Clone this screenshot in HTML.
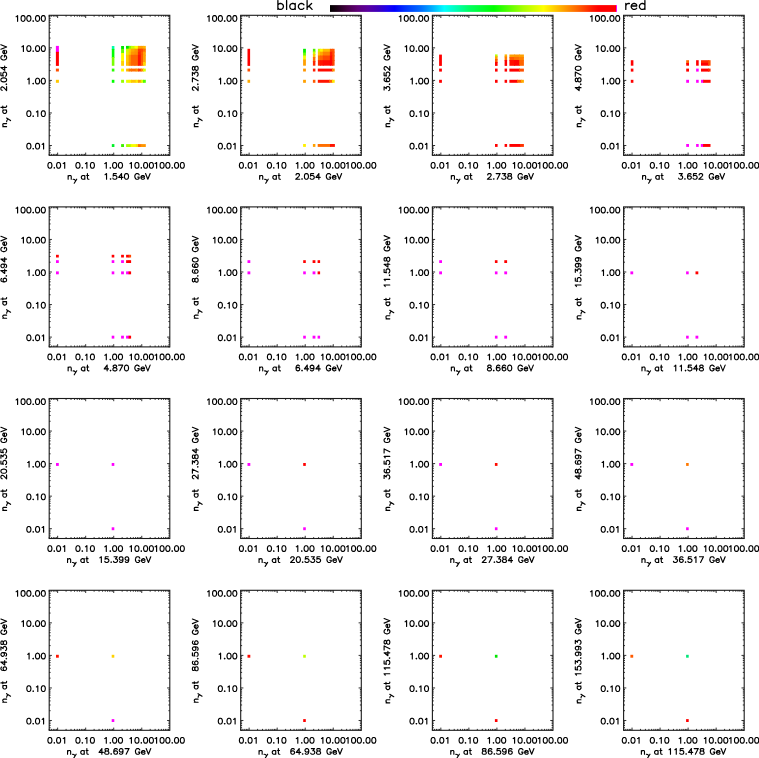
<!DOCTYPE html>
<html><head><meta charset="utf-8"><title>plot</title><style>
html,body{margin:0;padding:0;background:#fff;overflow:hidden;}svg{display:block;}
.tx{fill:none;stroke:#000;stroke-width:1.15px;stroke-linecap:round;stroke-linejoin:round;}
</style></head><body>
<svg width="759" height="758" viewBox="0 0 759 758">
<defs><linearGradient id="cb" x1="0" x2="1" y1="0" y2="0">
<stop offset="0.0%" stop-color="#000000"/>
<stop offset="2.3%" stop-color="#190014"/>
<stop offset="5.9%" stop-color="#460046"/>
<stop offset="9.6%" stop-color="#5f0078"/>
<stop offset="13.2%" stop-color="#5a00a0"/>
<stop offset="17.0%" stop-color="#3c00be"/>
<stop offset="19.9%" stop-color="#1e00f0"/>
<stop offset="22.5%" stop-color="#0000ff"/>
<stop offset="26.1%" stop-color="#0032ff"/>
<stop offset="31.7%" stop-color="#006eff"/>
<stop offset="35.4%" stop-color="#00aaff"/>
<stop offset="39.8%" stop-color="#00ffff"/>
<stop offset="44.6%" stop-color="#00ffaa"/>
<stop offset="48.3%" stop-color="#00ff64"/>
<stop offset="57.1%" stop-color="#00ff00"/>
<stop offset="61.9%" stop-color="#50ff00"/>
<stop offset="67.4%" stop-color="#aaff00"/>
<stop offset="74.4%" stop-color="#ffff00"/>
<stop offset="80.8%" stop-color="#ffaa00"/>
<stop offset="86.3%" stop-color="#ff6400"/>
<stop offset="91.8%" stop-color="#ff1400"/>
<stop offset="93.6%" stop-color="#ff0000"/>
<stop offset="99.6%" stop-color="#ff0000"/>
<stop offset="99.6%" stop-color="#ff00ff"/>
<stop offset="100.0%" stop-color="#ff00ff"/>
</linearGradient>
<g id="axes"><path d="M0.00 140.00v-1.40M0.00 0v1.40M0 140.00h1.40M120.60 140.00h-1.40M2.22 140.00v-1.40M2.22 0v1.40M0 137.42h1.40M120.60 137.42h-1.40M4.10 140.00v-1.40M4.10 0v1.40M0 135.24h1.40M120.60 135.24h-1.40M5.72 140.00v-1.40M5.72 0v1.40M0 133.36h1.40M120.60 133.36h-1.40M7.16 140.00v-1.40M7.16 0v1.40M0 131.69h1.40M120.60 131.69h-1.40M8.44 140.00v-2.70M8.44 0v2.70M0 130.20h2.70M120.60 130.20h-2.70M16.88 140.00v-1.40M16.88 0v1.40M0 120.40h1.40M120.60 120.40h-1.40M21.82 140.00v-1.40M21.82 0v1.40M0 114.67h1.40M120.60 114.67h-1.40M25.32 140.00v-1.40M25.32 0v1.40M0 110.60h1.40M120.60 110.60h-1.40M28.04 140.00v-1.40M28.04 0v1.40M0 107.45h1.40M120.60 107.45h-1.40M30.26 140.00v-1.40M30.26 0v1.40M0 104.87h1.40M120.60 104.87h-1.40M32.14 140.00v-1.40M32.14 0v1.40M0 102.69h1.40M120.60 102.69h-1.40M33.76 140.00v-1.40M33.76 0v1.40M0 100.81h1.40M120.60 100.81h-1.40M35.20 140.00v-1.40M35.20 0v1.40M0 99.14h1.40M120.60 99.14h-1.40M36.48 140.00v-2.70M36.48 0v2.70M0 97.65h2.70M120.60 97.65h-2.70M44.92 140.00v-1.40M44.92 0v1.40M0 87.85h1.40M120.60 87.85h-1.40M49.86 140.00v-1.40M49.86 0v1.40M0 82.12h1.40M120.60 82.12h-1.40M53.36 140.00v-1.40M53.36 0v1.40M0 78.05h1.40M120.60 78.05h-1.40M56.08 140.00v-1.40M56.08 0v1.40M0 74.90h1.40M120.60 74.90h-1.40M58.30 140.00v-1.40M58.30 0v1.40M0 72.32h1.40M120.60 72.32h-1.40M60.18 140.00v-1.40M60.18 0v1.40M0 70.14h1.40M120.60 70.14h-1.40M61.80 140.00v-1.40M61.80 0v1.40M0 68.26h1.40M120.60 68.26h-1.40M63.24 140.00v-1.40M63.24 0v1.40M0 66.59h1.40M120.60 66.59h-1.40M64.52 140.00v-2.70M64.52 0v2.70M0 65.10h2.70M120.60 65.10h-2.70M72.96 140.00v-1.40M72.96 0v1.40M0 55.30h1.40M120.60 55.30h-1.40M77.90 140.00v-1.40M77.90 0v1.40M0 49.57h1.40M120.60 49.57h-1.40M81.40 140.00v-1.40M81.40 0v1.40M0 45.50h1.40M120.60 45.50h-1.40M84.12 140.00v-1.40M84.12 0v1.40M0 42.35h1.40M120.60 42.35h-1.40M86.34 140.00v-1.40M86.34 0v1.40M0 39.77h1.40M120.60 39.77h-1.40M88.22 140.00v-1.40M88.22 0v1.40M0 37.59h1.40M120.60 37.59h-1.40M89.84 140.00v-1.40M89.84 0v1.40M0 35.70h1.40M120.60 35.70h-1.40M91.28 140.00v-1.40M91.28 0v1.40M0 34.04h1.40M120.60 34.04h-1.40M92.56 140.00v-2.70M92.56 0v2.70M0 32.55h2.70M120.60 32.55h-2.70M101.00 140.00v-1.40M101.00 0v1.40M0 22.75h1.40M120.60 22.75h-1.40M105.94 140.00v-1.40M105.94 0v1.40M0 17.02h1.40M120.60 17.02h-1.40M109.44 140.00v-1.40M109.44 0v1.40M0 12.95h1.40M120.60 12.95h-1.40M112.16 140.00v-1.40M112.16 0v1.40M0 9.80h1.40M120.60 9.80h-1.40M114.38 140.00v-1.40M114.38 0v1.40M0 7.22h1.40M120.60 7.22h-1.40M116.26 140.00v-1.40M116.26 0v1.40M0 5.04h1.40M120.60 5.04h-1.40M117.88 140.00v-1.40M117.88 0v1.40M0 3.15h1.40M120.60 3.15h-1.40M119.32 140.00v-1.40M119.32 0v1.40M0 1.49h1.40M120.60 1.49h-1.40" stroke="#1a1a1a" stroke-width="0.9" fill="none"/><rect x="0" y="0" width="120.60" height="140.00" fill="none" stroke="#1a1a1a" stroke-width="1.1"/><path class="tx" d="M0.4 147.2L-0.4 147.5L-1 148.3L-1.3 149.7L-1.3 150.5L-1 151.8L-0.4 152.6L0.4 152.9L1 152.9L1.9 152.6L2.4 151.8L2.7 150.5L2.7 149.7L2.4 148.3L1.9 147.5L1 147.2L0.4 147.2M5.1 152.4L4.8 152.6L5.1 152.9L5.3 152.6L5.1 152.4M9.1 147.2L8.2 147.5L7.7 148.3L7.4 149.7L7.4 150.5L7.7 151.8L8.2 152.6L9.1 152.9L9.7 152.9L10.5 152.6L11.1 151.8L11.4 150.5L11.4 149.7L11.1 148.3L10.5 147.5L9.7 147.2L9.1 147.2M14 148.3L14.6 148L15.5 147.2L15.5 152.9M28.5 147.2L27.6 147.5L27 148.3L26.7 149.7L26.7 150.5L27 151.8L27.6 152.6L28.5 152.9L29 152.9L29.9 152.6L30.5 151.8L30.8 150.5L30.8 149.7L30.5 148.3L29.9 147.5L29 147.2L28.5 147.2M33.1 152.4L32.8 152.6L33.1 152.9L33.4 152.6L33.1 152.4M36.3 148.3L36.8 148L37.7 147.2L37.7 152.9M42.9 147.2L42 147.5L41.5 148.3L41.2 149.7L41.2 150.5L41.5 151.8L42 152.6L42.9 152.9L43.5 152.9L44.4 152.6L44.9 151.8L45.2 150.5L45.2 149.7L44.9 148.3L44.4 147.5L43.5 147.2L42.9 147.2M55.6 148.3L56.2 148L57.1 147.2L57.1 152.9M61.1 152.4L60.8 152.6L61.1 152.9L61.4 152.6L61.1 152.4M65.2 147.2L64.3 147.5L63.7 148.3L63.4 149.7L63.4 150.5L63.7 151.8L64.3 152.6L65.2 152.9L65.8 152.9L66.6 152.6L67.2 151.8L67.5 150.5L67.5 149.7L67.2 148.3L66.6 147.5L65.8 147.2L65.2 147.2M71 147.2L70.1 147.5L69.5 148.3L69.2 149.7L69.2 150.5L69.5 151.8L70.1 152.6L71 152.9L71.5 152.9L72.4 152.6L73 151.8L73.3 150.5L73.3 149.7L73 148.3L72.4 147.5L71.5 147.2L71 147.2M80.8 148.3L81.4 148L82.2 147.2L82.2 152.9M87.4 147.2L86.6 147.5L86 148.3L85.7 149.7L85.7 150.5L86 151.8L86.6 152.6L87.4 152.9L88 152.9L88.9 152.6L89.5 151.8L89.7 150.5L89.7 149.7L89.5 148.3L88.9 147.5L88 147.2L87.4 147.2M92.1 152.4L91.8 152.6L92.1 152.9L92.3 152.6L92.1 152.4M96.1 147.2L95.2 147.5L94.7 148.3L94.4 149.7L94.4 150.5L94.7 151.8L95.2 152.6L96.1 152.9L96.7 152.9L97.6 152.6L98.1 151.8L98.4 150.5L98.4 149.7L98.1 148.3L97.6 147.5L96.7 147.2L96.1 147.2M101.9 147.2L101 147.5L100.4 148.3L100.2 149.7L100.2 150.5L100.4 151.8L101 152.6L101.9 152.9L102.5 152.9L103.3 152.6L103.9 151.8L104.2 150.5L104.2 149.7L103.9 148.3L103.3 147.5L102.5 147.2L101.9 147.2M105.9 148.3L106.5 148L107.4 147.2L107.4 152.9M112.6 147.2L111.7 147.5L111.1 148.3L110.9 149.7L110.9 150.5L111.1 151.8L111.7 152.6L112.6 152.9L113.2 152.9L114 152.6L114.6 151.8L114.9 150.5L114.9 149.7L114.6 148.3L114 147.5L113.2 147.2L112.6 147.2M118.4 147.2L117.5 147.5L116.9 148.3L116.6 149.7L116.6 150.5L116.9 151.8L117.5 152.6L118.4 152.9L118.9 152.9L119.8 152.6L120.4 151.8L120.7 150.5L120.7 149.7L120.4 148.3L119.8 147.5L118.9 147.2L118.4 147.2M123 152.4L122.7 152.6L123 152.9L123.3 152.6L123 152.4M127 147.2L126.2 147.5L125.6 148.3L125.3 149.7L125.3 150.5L125.6 151.8L126.2 152.6L127 152.9L127.6 152.9L128.5 152.6L129.1 151.8L129.3 150.5L129.3 149.7L129.1 148.3L128.5 147.5L127.6 147.2L127 147.2M132.8 147.2L131.9 147.5L131.4 148.3L131.1 149.7L131.1 150.5L131.4 151.8L131.9 152.6L132.8 152.9L133.4 152.9L134.3 152.6L134.8 151.8L135.1 150.5L135.1 149.7L134.8 148.3L134.3 147.5L133.4 147.2L132.8 147.2M-33.1 1.4L-32.5 1.1L-31.6 0.3L-31.6 6M-26.4 0.3L-27.3 0.6L-27.9 1.4L-28.1 2.8L-28.1 3.6L-27.9 4.9L-27.3 5.7L-26.4 6L-25.8 6L-25 5.7L-24.4 4.9L-24.1 3.6L-24.1 2.8L-24.4 1.4L-25 0.6L-25.8 0.3L-26.4 0.3M-20.6 0.3L-21.5 0.6L-22.1 1.4L-22.4 2.8L-22.4 3.6L-22.1 4.9L-21.5 5.7L-20.6 6L-20.1 6L-19.2 5.7L-18.6 4.9L-18.3 3.6L-18.3 2.8L-18.6 1.4L-19.2 0.6L-20.1 0.3L-20.6 0.3M-16 5.5L-16.3 5.7L-16 6L-15.7 5.7L-16 5.5M-12 0.3L-12.8 0.6L-13.4 1.4L-13.7 2.8L-13.7 3.6L-13.4 4.9L-12.8 5.7L-12 6L-11.4 6L-10.5 5.7L-9.9 4.9L-9.6 3.6L-9.6 2.8L-9.9 1.4L-10.5 0.6L-11.4 0.3L-12 0.3M-6.2 0.3L-7 0.6L-7.6 1.4L-7.9 2.8L-7.9 3.6L-7.6 4.9L-7 5.7L-6.2 6L-5.6 6L-4.7 5.7L-4.2 4.9L-3.9 3.6L-3.9 2.8L-4.2 1.4L-4.7 0.6L-5.6 0.3L-6.2 0.3M-27.3 31.5L-26.7 31.2L-25.8 30.4L-25.8 36.1M-20.6 30.4L-21.5 30.7L-22.1 31.5L-22.4 32.8L-22.4 33.6L-22.1 35L-21.5 35.8L-20.6 36.1L-20.1 36.1L-19.2 35.8L-18.6 35L-18.3 33.6L-18.3 32.8L-18.6 31.5L-19.2 30.7L-20.1 30.4L-20.6 30.4M-16 35.5L-16.3 35.8L-16 36.1L-15.7 35.8L-16 35.5M-12 30.4L-12.8 30.7L-13.4 31.5L-13.7 32.8L-13.7 33.6L-13.4 35L-12.8 35.8L-12 36.1L-11.4 36.1L-10.5 35.8L-9.9 35L-9.6 33.6L-9.6 32.8L-9.9 31.5L-10.5 30.7L-11.4 30.4L-12 30.4M-6.2 30.4L-7 30.7L-7.6 31.5L-7.9 32.8L-7.9 33.6L-7.6 35L-7 35.8L-6.2 36.1L-5.6 36.1L-4.7 35.8L-4.2 35L-3.9 33.6L-3.9 32.8L-4.2 31.5L-4.7 30.7L-5.6 30.4L-6.2 30.4M-21.5 64L-20.9 63.7L-20.1 62.9L-20.1 68.6M-16 68.1L-16.3 68.3L-16 68.6L-15.7 68.3L-16 68.1M-12 62.9L-12.8 63.2L-13.4 64L-13.7 65.4L-13.7 66.2L-13.4 67.5L-12.8 68.3L-12 68.6L-11.4 68.6L-10.5 68.3L-9.9 67.5L-9.6 66.2L-9.6 65.4L-9.9 64L-10.5 63.2L-11.4 62.9L-12 62.9M-6.2 62.9L-7 63.2L-7.6 64L-7.9 65.4L-7.9 66.2L-7.6 67.5L-7 68.3L-6.2 68.6L-5.6 68.6L-4.7 68.3L-4.2 67.5L-3.9 66.2L-3.9 65.4L-4.2 64L-4.7 63.2L-5.6 62.9L-6.2 62.9M-20.6 95.5L-21.5 95.8L-22.1 96.6L-22.4 97.9L-22.4 98.7L-22.1 100.1L-21.5 100.9L-20.6 101.2L-20.1 101.2L-19.2 100.9L-18.6 100.1L-18.3 98.7L-18.3 97.9L-18.6 96.6L-19.2 95.8L-20.1 95.5L-20.6 95.5M-16 100.6L-16.3 100.9L-16 101.2L-15.7 100.9L-16 100.6M-12.8 96.6L-12.2 96.3L-11.4 95.5L-11.4 101.2M-6.2 95.5L-7 95.8L-7.6 96.6L-7.9 97.9L-7.9 98.7L-7.6 100.1L-7 100.9L-6.2 101.2L-5.6 101.2L-4.7 100.9L-4.2 100.1L-3.9 98.7L-3.9 97.9L-4.2 96.6L-4.7 95.8L-5.6 95.5L-6.2 95.5M-20.6 128L-21.5 128.3L-22.1 129.1L-22.4 130.5L-22.4 131.3L-22.1 132.6L-21.5 133.4L-20.6 133.7L-20.1 133.7L-19.2 133.4L-18.6 132.6L-18.3 131.3L-18.3 130.5L-18.6 129.1L-19.2 128.3L-20.1 128L-20.6 128M-16 133.2L-16.3 133.4L-16 133.7L-15.7 133.4L-16 133.2M-12 128L-12.8 128.3L-13.4 129.1L-13.7 130.5L-13.7 131.3L-13.4 132.6L-12.8 133.4L-12 133.7L-11.4 133.7L-10.5 133.4L-9.9 132.6L-9.6 131.3L-9.6 130.5L-9.9 129.1L-10.5 128.3L-11.4 128L-12 128M-7 129.1L-6.5 128.8L-5.6 128L-5.6 133.7"/></g>
</defs>
<rect x="0" y="0" width="759" height="758" fill="#fff"/>
<rect x="330" y="5.1" width="287" height="6.8" fill="url(#cb)"/>
<path class="tx" style="stroke-width:1.3px" d="M277.9 0.6L277.9 9.4M277.9 4.8L278.9 3.9L279.8 3.5L281.1 3.5L282 3.9L283 4.8L283.4 6L283.4 6.9L283 8.1L282 9L281.1 9.4L279.8 9.4L278.9 9L277.9 8.1M286.6 0.6L286.6 9.4M295.2 3.5L295.2 9.4M295.2 4.8L294.3 3.9L293.4 3.5L292.1 3.5L291.1 3.9L290.2 4.8L289.8 6L289.8 6.9L290.2 8.1L291.1 9L292.1 9.4L293.4 9.4L294.3 9L295.2 8.1M303.9 4.8L303 3.9L302.1 3.5L300.7 3.5L299.8 3.9L298.9 4.8L298.4 6L298.4 6.9L298.9 8.1L299.8 9L300.7 9.4L302.1 9.4L303 9L303.9 8.1M307.1 0.6L307.1 9.4M311.6 3.5L307.1 7.7M308.9 6L312.1 9.4M625.8 3.5L625.8 9.4M625.8 6L626.2 4.8L627.1 3.9L628 3.5L629.4 3.5M631.2 6L636.7 6L636.7 5.2L636.2 4.4L635.8 3.9L634.8 3.5L633.5 3.5L632.6 3.9L631.7 4.8L631.2 6L631.2 6.9L631.7 8.1L632.6 9L633.5 9.4L634.8 9.4L635.8 9L636.7 8.1M644.9 0.6L644.9 9.4M644.9 4.8L643.9 3.9L643 3.5L641.7 3.5L640.8 3.9L639.9 4.8L639.4 6L639.4 6.9L639.9 8.1L640.8 9L641.7 9.4L643 9.4L643.9 9L644.9 8.1"/>
<g transform="translate(49.20,15.30)">
<rect x="6.70" y="30.60" width="3.00" height="6.70" fill="#ff00ff"/>
<rect x="6.70" y="36.50" width="3.00" height="14.10" fill="#ff0000"/>
<rect x="6.70" y="53.30" width="3.00" height="2.90" fill="#ff5000"/>
<rect x="6.70" y="64.50" width="3.00" height="3.00" fill="#ffc800"/>
<rect x="62.60" y="30.70" width="2.60" height="3.70" fill="#00ffaa"/>
<rect x="62.60" y="33.60" width="2.60" height="8.90" fill="#00ff00"/>
<rect x="62.60" y="41.70" width="2.60" height="8.80" fill="#78ff00"/>
<rect x="62.60" y="53.30" width="2.60" height="2.90" fill="#28ff00"/>
<rect x="62.60" y="64.50" width="2.60" height="3.00" fill="#00ff00"/>
<rect x="62.60" y="128.80" width="2.60" height="2.90" fill="#00f028"/>
<rect x="71.90" y="30.70" width="2.90" height="3.70" fill="#00e600"/>
<rect x="71.90" y="33.60" width="2.90" height="4.90" fill="#64ff00"/>
<rect x="71.90" y="37.70" width="2.90" height="8.80" fill="#ffff00"/>
<rect x="71.90" y="45.70" width="2.90" height="4.80" fill="#ffd200"/>
<rect x="71.90" y="53.30" width="2.90" height="2.90" fill="#ffff00"/>
<rect x="71.90" y="64.50" width="2.90" height="3.00" fill="#96ff00"/>
<rect x="71.90" y="128.80" width="2.90" height="2.90" fill="#3cf000"/>
<rect x="76.80" y="30.60" width="3.50" height="3.60" fill="#00e600"/>
<rect x="79.50" y="30.60" width="2.90" height="3.60" fill="#78ff00"/>
<rect x="81.60" y="30.60" width="4.50" height="3.60" fill="#c8ff00"/>
<rect x="85.30" y="30.60" width="4.20" height="3.60" fill="#ffff00"/>
<rect x="88.70" y="30.60" width="3.70" height="3.60" fill="#ffa000"/>
<rect x="91.60" y="30.60" width="3.00" height="3.60" fill="#ffa000"/>
<rect x="93.80" y="30.60" width="2.80" height="3.60" fill="#ffb400"/>
<rect x="76.80" y="33.40" width="3.50" height="3.70" fill="#c8ff00"/>
<rect x="79.50" y="33.40" width="2.90" height="3.70" fill="#ffd200"/>
<rect x="81.60" y="33.40" width="4.50" height="3.70" fill="#ffaa00"/>
<rect x="85.30" y="33.40" width="4.20" height="3.70" fill="#ff9600"/>
<rect x="88.70" y="33.40" width="3.70" height="3.70" fill="#ff3c00"/>
<rect x="91.60" y="33.40" width="3.00" height="3.70" fill="#ff4600"/>
<rect x="93.80" y="33.40" width="2.80" height="3.70" fill="#ff6e00"/>
<rect x="76.80" y="36.30" width="3.50" height="4.00" fill="#e6f000"/>
<rect x="79.50" y="36.30" width="2.90" height="4.00" fill="#ffc800"/>
<rect x="81.60" y="36.30" width="4.50" height="4.00" fill="#ff9600"/>
<rect x="85.30" y="36.30" width="4.20" height="4.00" fill="#ff8c00"/>
<rect x="88.70" y="36.30" width="3.70" height="4.00" fill="#ff2800"/>
<rect x="91.60" y="36.30" width="3.00" height="4.00" fill="#ff5a00"/>
<rect x="93.80" y="36.30" width="2.80" height="4.00" fill="#ffa000"/>
<rect x="76.80" y="39.50" width="3.50" height="8.00" fill="#ffc800"/>
<rect x="79.50" y="39.50" width="2.90" height="8.00" fill="#ff9600"/>
<rect x="81.60" y="39.50" width="4.50" height="8.00" fill="#ff6400"/>
<rect x="85.30" y="39.50" width="4.20" height="8.00" fill="#ff6400"/>
<rect x="88.70" y="39.50" width="3.70" height="8.00" fill="#ff1400"/>
<rect x="91.60" y="39.50" width="3.00" height="8.00" fill="#ff5a00"/>
<rect x="93.80" y="39.50" width="2.80" height="8.00" fill="#ffa000"/>
<rect x="76.80" y="46.70" width="3.50" height="3.80" fill="#ffbe00"/>
<rect x="79.50" y="46.70" width="2.90" height="3.80" fill="#ff8c00"/>
<rect x="81.60" y="46.70" width="4.50" height="3.80" fill="#ff6400"/>
<rect x="85.30" y="46.70" width="4.20" height="3.80" fill="#ff6400"/>
<rect x="88.70" y="46.70" width="3.70" height="3.80" fill="#ff1400"/>
<rect x="91.60" y="46.70" width="3.00" height="3.80" fill="#ff6400"/>
<rect x="93.80" y="46.70" width="2.80" height="3.80" fill="#ffd200"/>
<rect x="76.90" y="53.30" width="3.40" height="2.90" fill="#ffb400"/>
<rect x="79.50" y="53.30" width="3.10" height="2.90" fill="#ff7800"/>
<rect x="81.80" y="53.30" width="5.50" height="2.90" fill="#ff6e00"/>
<rect x="86.50" y="53.30" width="3.00" height="2.90" fill="#ff8c00"/>
<rect x="88.70" y="53.30" width="3.70" height="2.90" fill="#ff3c00"/>
<rect x="91.60" y="53.30" width="3.00" height="2.90" fill="#ff8c00"/>
<rect x="93.80" y="53.30" width="2.80" height="2.90" fill="#dcff00"/>
<rect x="76.90" y="64.50" width="3.40" height="3.00" fill="#e6ff00"/>
<rect x="79.50" y="64.50" width="3.10" height="3.00" fill="#fff000"/>
<rect x="81.80" y="64.50" width="5.50" height="3.00" fill="#ffc800"/>
<rect x="86.50" y="64.50" width="3.00" height="3.00" fill="#ffeb00"/>
<rect x="88.70" y="64.50" width="3.70" height="3.00" fill="#ffa000"/>
<rect x="91.60" y="64.50" width="3.00" height="3.00" fill="#dcff00"/>
<rect x="93.80" y="64.50" width="2.80" height="3.00" fill="#50ff00"/>
<rect x="76.90" y="128.80" width="5.40" height="2.90" fill="#aaff00"/>
<rect x="81.50" y="128.80" width="6.00" height="2.90" fill="#f5ff00"/>
<rect x="86.70" y="128.80" width="2.90" height="2.90" fill="#ffdc00"/>
<rect x="88.80" y="128.80" width="3.50" height="2.90" fill="#ff6e00"/>
<rect x="91.50" y="128.80" width="5.10" height="2.90" fill="#ff9600"/>
<use href="#axes"/>
<path class="tx" transform="translate(17.74,163.95)" d="M1.2 -3.8L1.2 0M1.2 -2.7L2 -3.5L2.6 -3.8L3.5 -3.8L4 -3.5L4.3 -2.7L4.3 0M6.18 0.05Q7.68 0.00 8.48 1.20M9.78 -0.05L7.28 3.95M17.9 -3.8L17.9 0M17.9 -3L17.3 -3.5L16.8 -3.8L15.9 -3.8L15.3 -3.5L14.7 -3L14.4 -2.2L14.4 -1.6L14.7 -0.8L15.3 -0.3L15.9 0L16.8 0L17.3 -0.3L17.9 -0.8M20.5 -5.7L20.5 -1.1L20.8 -0.3L21.4 0L22 0M19.7 -3.8L21.7 -3.8M38.1 -4.6L38.7 -4.9L39.6 -5.7L39.6 0M43.6 -0.5L43.3 -0.3L43.6 0L43.9 -0.3L43.6 -0.5M49.4 -5.7L46.5 -5.7L46.2 -3.2L46.5 -3.5L47.4 -3.8L48.3 -3.8L49.1 -3.5L49.7 -3L50 -2.2L50 -1.6L49.7 -0.8L49.1 -0.3L48.3 0L47.4 0L46.5 -0.3L46.2 -0.5L46 -1.1M54.6 -5.7L51.7 -1.9L56.1 -1.9M54.6 -5.7L54.6 0M59.2 -5.7L58.4 -5.4L57.8 -4.6L57.5 -3.2L57.5 -2.4L57.8 -1.1L58.4 -0.3L59.2 0L59.8 0L60.7 -0.3L61.3 -1.1L61.6 -2.4L61.6 -3.2L61.3 -4.6L60.7 -5.4L59.8 -5.7L59.2 -5.7M72.2 -4.3L72 -4.9L71.4 -5.4L70.8 -5.7L69.6 -5.7L69.1 -5.4L68.5 -4.9L68.2 -4.3L67.9 -3.5L67.9 -2.2L68.2 -1.4L68.5 -0.8L69.1 -0.3L69.6 0L70.8 0L71.4 -0.3L72 -0.8L72.2 -1.4L72.2 -2.2M70.8 -2.2L72.2 -2.2M74 -2.2L77.5 -2.2L77.5 -2.7L77.2 -3.2L76.9 -3.5L76.3 -3.8L75.4 -3.8L74.9 -3.5L74.3 -3L74 -2.2L74 -1.6L74.3 -0.8L74.9 -0.3L75.4 0L76.3 0L76.9 -0.3L77.5 -0.8M78.6 -5.7L80.9 0M83.2 -5.7L80.9 0"/>
<path class="tx" transform="translate(-42.6,112.56) rotate(-90)" d="M1.2 -3.8L1.2 0M1.2 -2.7L2 -3.5L2.6 -3.8L3.5 -3.8L4 -3.5L4.3 -2.7L4.3 0M6.18 0.05Q7.68 0.00 8.48 1.20M9.78 -0.05L7.28 3.95M17.9 -3.8L17.9 0M17.9 -3L17.3 -3.5L16.8 -3.8L15.9 -3.8L15.3 -3.5L14.7 -3L14.4 -2.2L14.4 -1.6L14.7 -0.8L15.3 -0.3L15.9 0L16.8 0L17.3 -0.3L17.9 -0.8M20.5 -5.7L20.5 -1.1L20.8 -0.3L21.4 0L22 0M19.7 -3.8L21.7 -3.8M37.6 -4.3L37.6 -4.6L37.9 -5.1L38.1 -5.4L38.7 -5.7L39.9 -5.7L40.5 -5.4L40.7 -5.1L41 -4.6L41 -4.1L40.7 -3.5L40.2 -2.7L37.3 0L41.3 0M43.6 -0.5L43.3 -0.3L43.6 0L43.9 -0.3L43.6 -0.5M47.7 -5.7L46.8 -5.4L46.2 -4.6L46 -3.2L46 -2.4L46.2 -1.1L46.8 -0.3L47.7 0L48.3 0L49.1 -0.3L49.7 -1.1L50 -2.4L50 -3.2L49.7 -4.6L49.1 -5.4L48.3 -5.7L47.7 -5.7M55.2 -5.7L52.3 -5.7L52 -3.2L52.3 -3.5L53.2 -3.8L54 -3.8L54.9 -3.5L55.5 -3L55.8 -2.2L55.8 -1.6L55.5 -0.8L54.9 -0.3L54 0L53.2 0L52.3 -0.3L52 -0.5L51.7 -1.1M60.4 -5.7L57.5 -1.9L61.8 -1.9M60.4 -5.7L60.4 0M72.2 -4.3L72 -4.9L71.4 -5.4L70.8 -5.7L69.6 -5.7L69.1 -5.4L68.5 -4.9L68.2 -4.3L67.9 -3.5L67.9 -2.2L68.2 -1.4L68.5 -0.8L69.1 -0.3L69.6 0L70.8 0L71.4 -0.3L72 -0.8L72.2 -1.4L72.2 -2.2M70.8 -2.2L72.2 -2.2M74 -2.2L77.5 -2.2L77.5 -2.7L77.2 -3.2L76.9 -3.5L76.3 -3.8L75.4 -3.8L74.9 -3.5L74.3 -3L74 -2.2L74 -1.6L74.3 -0.8L74.9 -0.3L75.4 0L76.3 0L76.9 -0.3L77.5 -0.8M78.6 -5.7L80.9 0M83.2 -5.7L80.9 0"/>
</g>
<g transform="translate(240.70,15.30)">
<rect x="6.80" y="33.50" width="2.60" height="17.10" fill="#ff0000"/>
<rect x="6.80" y="53.30" width="2.60" height="2.90" fill="#ff5000"/>
<rect x="6.80" y="64.50" width="2.60" height="3.00" fill="#ffaa00"/>
<rect x="62.40" y="33.50" width="2.80" height="4.50" fill="#00f000"/>
<rect x="62.40" y="37.20" width="2.80" height="3.80" fill="#64ff00"/>
<rect x="62.40" y="40.20" width="2.80" height="4.80" fill="#f5fa00"/>
<rect x="62.40" y="44.20" width="2.80" height="6.20" fill="#ffa000"/>
<rect x="62.40" y="53.30" width="2.80" height="2.90" fill="#ff9600"/>
<rect x="62.40" y="64.50" width="2.80" height="3.00" fill="#ffa000"/>
<rect x="62.40" y="128.70" width="2.80" height="2.90" fill="#fff000"/>
<rect x="72.20" y="33.50" width="2.50" height="3.50" fill="#50f000"/>
<rect x="72.20" y="36.20" width="2.50" height="3.30" fill="#c8ff00"/>
<rect x="72.20" y="38.70" width="2.50" height="3.80" fill="#ffc800"/>
<rect x="72.20" y="41.70" width="2.50" height="4.80" fill="#ff6e00"/>
<rect x="72.20" y="45.70" width="2.50" height="4.70" fill="#ff2800"/>
<rect x="72.20" y="53.30" width="2.50" height="2.90" fill="#ff1e00"/>
<rect x="72.20" y="64.50" width="2.50" height="3.00" fill="#ff5a00"/>
<rect x="72.20" y="128.70" width="2.50" height="2.90" fill="#ffa000"/>
<rect x="77.20" y="33.50" width="2.80" height="3.70" fill="#beff00"/>
<rect x="79.20" y="33.50" width="3.70" height="3.70" fill="#fffa00"/>
<rect x="82.10" y="33.50" width="7.90" height="3.70" fill="#ffbe00"/>
<rect x="89.20" y="33.50" width="3.20" height="3.70" fill="#ff5000"/>
<rect x="91.60" y="33.50" width="2.30" height="3.70" fill="#ff5a00"/>
<rect x="77.20" y="36.40" width="2.80" height="4.60" fill="#ffc800"/>
<rect x="79.20" y="36.40" width="3.70" height="4.60" fill="#ffaa00"/>
<rect x="82.10" y="36.40" width="7.90" height="4.60" fill="#ff8200"/>
<rect x="89.20" y="36.40" width="3.20" height="4.60" fill="#ff1e00"/>
<rect x="91.60" y="36.40" width="2.30" height="4.60" fill="#ff5000"/>
<rect x="77.20" y="40.20" width="2.80" height="5.50" fill="#ff7800"/>
<rect x="79.20" y="40.20" width="3.70" height="5.50" fill="#ff6400"/>
<rect x="82.10" y="40.20" width="7.90" height="5.50" fill="#ff4600"/>
<rect x="89.20" y="40.20" width="3.20" height="5.50" fill="#ff0a00"/>
<rect x="91.60" y="40.20" width="2.30" height="5.50" fill="#ff5000"/>
<rect x="77.20" y="44.90" width="2.80" height="5.50" fill="#ff2800"/>
<rect x="79.20" y="44.90" width="3.70" height="5.50" fill="#ff1400"/>
<rect x="82.10" y="44.90" width="7.90" height="5.50" fill="#ff0a00"/>
<rect x="89.20" y="44.90" width="3.20" height="5.50" fill="#ff0000"/>
<rect x="91.60" y="44.90" width="2.30" height="5.50" fill="#ff4600"/>
<rect x="77.10" y="53.30" width="15.00" height="2.90" fill="#ff0a00"/>
<rect x="91.30" y="53.30" width="2.70" height="2.90" fill="#ff8c00"/>
<rect x="77.10" y="64.50" width="12.00" height="3.00" fill="#ff1400"/>
<rect x="88.30" y="64.50" width="3.80" height="3.00" fill="#ff6400"/>
<rect x="91.30" y="64.50" width="2.70" height="3.00" fill="#ffe600"/>
<rect x="77.00" y="128.70" width="13.10" height="2.90" fill="#ff6e00"/>
<rect x="89.30" y="128.70" width="4.90" height="2.90" fill="#ff1400"/>
<use href="#axes"/>
<path class="tx" transform="translate(17.74,163.95)" d="M1.2 -3.8L1.2 0M1.2 -2.7L2 -3.5L2.6 -3.8L3.5 -3.8L4 -3.5L4.3 -2.7L4.3 0M6.18 0.05Q7.68 0.00 8.48 1.20M9.78 -0.05L7.28 3.95M17.9 -3.8L17.9 0M17.9 -3L17.3 -3.5L16.8 -3.8L15.9 -3.8L15.3 -3.5L14.7 -3L14.4 -2.2L14.4 -1.6L14.7 -0.8L15.3 -0.3L15.9 0L16.8 0L17.3 -0.3L17.9 -0.8M20.5 -5.7L20.5 -1.1L20.8 -0.3L21.4 0L22 0M19.7 -3.8L21.7 -3.8M37.6 -4.3L37.6 -4.6L37.9 -5.1L38.1 -5.4L38.7 -5.7L39.9 -5.7L40.5 -5.4L40.7 -5.1L41 -4.6L41 -4.1L40.7 -3.5L40.2 -2.7L37.3 0L41.3 0M43.6 -0.5L43.3 -0.3L43.6 0L43.9 -0.3L43.6 -0.5M47.7 -5.7L46.8 -5.4L46.2 -4.6L46 -3.2L46 -2.4L46.2 -1.1L46.8 -0.3L47.7 0L48.3 0L49.1 -0.3L49.7 -1.1L50 -2.4L50 -3.2L49.7 -4.6L49.1 -5.4L48.3 -5.7L47.7 -5.7M55.2 -5.7L52.3 -5.7L52 -3.2L52.3 -3.5L53.2 -3.8L54 -3.8L54.9 -3.5L55.5 -3L55.8 -2.2L55.8 -1.6L55.5 -0.8L54.9 -0.3L54 0L53.2 0L52.3 -0.3L52 -0.5L51.7 -1.1M60.4 -5.7L57.5 -1.9L61.8 -1.9M60.4 -5.7L60.4 0M72.2 -4.3L72 -4.9L71.4 -5.4L70.8 -5.7L69.6 -5.7L69.1 -5.4L68.5 -4.9L68.2 -4.3L67.9 -3.5L67.9 -2.2L68.2 -1.4L68.5 -0.8L69.1 -0.3L69.6 0L70.8 0L71.4 -0.3L72 -0.8L72.2 -1.4L72.2 -2.2M70.8 -2.2L72.2 -2.2M74 -2.2L77.5 -2.2L77.5 -2.7L77.2 -3.2L76.9 -3.5L76.3 -3.8L75.4 -3.8L74.9 -3.5L74.3 -3L74 -2.2L74 -1.6L74.3 -0.8L74.9 -0.3L75.4 0L76.3 0L76.9 -0.3L77.5 -0.8M78.6 -5.7L80.9 0M83.2 -5.7L80.9 0"/>
<path class="tx" transform="translate(-42.6,112.56) rotate(-90)" d="M1.2 -3.8L1.2 0M1.2 -2.7L2 -3.5L2.6 -3.8L3.5 -3.8L4 -3.5L4.3 -2.7L4.3 0M6.18 0.05Q7.68 0.00 8.48 1.20M9.78 -0.05L7.28 3.95M17.9 -3.8L17.9 0M17.9 -3L17.3 -3.5L16.8 -3.8L15.9 -3.8L15.3 -3.5L14.7 -3L14.4 -2.2L14.4 -1.6L14.7 -0.8L15.3 -0.3L15.9 0L16.8 0L17.3 -0.3L17.9 -0.8M20.5 -5.7L20.5 -1.1L20.8 -0.3L21.4 0L22 0M19.7 -3.8L21.7 -3.8M37.6 -4.3L37.6 -4.6L37.9 -5.1L38.1 -5.4L38.7 -5.7L39.9 -5.7L40.5 -5.4L40.7 -5.1L41 -4.6L41 -4.1L40.7 -3.5L40.2 -2.7L37.3 0L41.3 0M43.6 -0.5L43.3 -0.3L43.6 0L43.9 -0.3L43.6 -0.5M50 -5.7L47.1 0M46 -5.7L50 -5.7M52.3 -5.7L55.5 -5.7L53.8 -3.5L54.6 -3.5L55.2 -3.2L55.5 -3L55.8 -2.2L55.8 -1.6L55.5 -0.8L54.9 -0.3L54 0L53.2 0L52.3 -0.3L52 -0.5L51.7 -1.1M59 -5.7L58.1 -5.4L57.8 -4.9L57.8 -4.3L58.1 -3.8L58.7 -3.5L59.8 -3.2L60.7 -3L61.3 -2.4L61.6 -1.9L61.6 -1.1L61.3 -0.5L61 -0.3L60.1 0L59 0L58.1 -0.3L57.8 -0.5L57.5 -1.1L57.5 -1.9L57.8 -2.4L58.4 -3L59.2 -3.2L60.4 -3.5L61 -3.8L61.3 -4.3L61.3 -4.9L61 -5.4L60.1 -5.7L59 -5.7M72.2 -4.3L72 -4.9L71.4 -5.4L70.8 -5.7L69.6 -5.7L69.1 -5.4L68.5 -4.9L68.2 -4.3L67.9 -3.5L67.9 -2.2L68.2 -1.4L68.5 -0.8L69.1 -0.3L69.6 0L70.8 0L71.4 -0.3L72 -0.8L72.2 -1.4L72.2 -2.2M70.8 -2.2L72.2 -2.2M74 -2.2L77.5 -2.2L77.5 -2.7L77.2 -3.2L76.9 -3.5L76.3 -3.8L75.4 -3.8L74.9 -3.5L74.3 -3L74 -2.2L74 -1.6L74.3 -0.8L74.9 -0.3L75.4 0L76.3 0L76.9 -0.3L77.5 -0.8M78.6 -5.7L80.9 0M83.2 -5.7L80.9 0"/>
</g>
<g transform="translate(432.40,15.30)">
<rect x="6.70" y="39.30" width="2.80" height="11.30" fill="#ff0000"/>
<rect x="6.70" y="53.30" width="2.80" height="3.00" fill="#ff0000"/>
<rect x="6.70" y="64.50" width="2.80" height="3.00" fill="#ff0000"/>
<rect x="62.60" y="39.10" width="2.60" height="2.70" fill="#beff00"/>
<rect x="62.60" y="41.00" width="2.60" height="3.50" fill="#ffa000"/>
<rect x="62.60" y="43.70" width="2.60" height="3.80" fill="#ff5a00"/>
<rect x="62.60" y="46.70" width="2.60" height="3.90" fill="#ff0000"/>
<rect x="62.60" y="53.30" width="2.60" height="3.00" fill="#ff0000"/>
<rect x="62.60" y="64.50" width="2.60" height="3.00" fill="#ff0000"/>
<rect x="62.60" y="128.70" width="2.60" height="2.90" fill="#ff0000"/>
<rect x="72.20" y="39.10" width="2.50" height="2.90" fill="#ffb400"/>
<rect x="72.20" y="41.20" width="2.50" height="4.30" fill="#ff7800"/>
<rect x="72.20" y="44.70" width="2.50" height="5.90" fill="#ff0000"/>
<rect x="72.20" y="53.30" width="2.50" height="3.00" fill="#ff0000"/>
<rect x="72.20" y="64.50" width="2.50" height="3.00" fill="#ff0000"/>
<rect x="72.20" y="128.70" width="2.50" height="2.90" fill="#ff0000"/>
<rect x="77.00" y="39.20" width="5.40" height="3.30" fill="#ffa000"/>
<rect x="81.60" y="39.20" width="6.00" height="3.30" fill="#ff9600"/>
<rect x="86.80" y="39.20" width="4.70" height="3.30" fill="#ffa000"/>
<rect x="77.00" y="41.70" width="5.40" height="3.80" fill="#ff5a00"/>
<rect x="81.60" y="41.70" width="6.00" height="3.80" fill="#ff6e00"/>
<rect x="86.80" y="41.70" width="4.70" height="3.80" fill="#ff8200"/>
<rect x="77.00" y="44.70" width="5.40" height="5.80" fill="#ff0f00"/>
<rect x="81.60" y="44.70" width="6.00" height="5.80" fill="#ff0500"/>
<rect x="86.80" y="44.70" width="4.70" height="5.80" fill="#ff6400"/>
<rect x="77.00" y="53.30" width="10.40" height="3.00" fill="#ff0000"/>
<rect x="86.60" y="53.30" width="4.90" height="3.00" fill="#ff5000"/>
<rect x="77.00" y="64.50" width="8.40" height="3.00" fill="#ff0000"/>
<rect x="84.60" y="64.50" width="4.80" height="3.00" fill="#ff6400"/>
<rect x="88.60" y="64.50" width="2.90" height="3.00" fill="#ffaa00"/>
<rect x="77.00" y="128.70" width="11.40" height="2.90" fill="#ff0000"/>
<rect x="87.60" y="128.70" width="3.90" height="2.90" fill="#ff3200"/>
<use href="#axes"/>
<path class="tx" transform="translate(17.74,163.95)" d="M1.2 -3.8L1.2 0M1.2 -2.7L2 -3.5L2.6 -3.8L3.5 -3.8L4 -3.5L4.3 -2.7L4.3 0M6.18 0.05Q7.68 0.00 8.48 1.20M9.78 -0.05L7.28 3.95M17.9 -3.8L17.9 0M17.9 -3L17.3 -3.5L16.8 -3.8L15.9 -3.8L15.3 -3.5L14.7 -3L14.4 -2.2L14.4 -1.6L14.7 -0.8L15.3 -0.3L15.9 0L16.8 0L17.3 -0.3L17.9 -0.8M20.5 -5.7L20.5 -1.1L20.8 -0.3L21.4 0L22 0M19.7 -3.8L21.7 -3.8M37.6 -4.3L37.6 -4.6L37.9 -5.1L38.1 -5.4L38.7 -5.7L39.9 -5.7L40.5 -5.4L40.7 -5.1L41 -4.6L41 -4.1L40.7 -3.5L40.2 -2.7L37.3 0L41.3 0M43.6 -0.5L43.3 -0.3L43.6 0L43.9 -0.3L43.6 -0.5M50 -5.7L47.1 0M46 -5.7L50 -5.7M52.3 -5.7L55.5 -5.7L53.8 -3.5L54.6 -3.5L55.2 -3.2L55.5 -3L55.8 -2.2L55.8 -1.6L55.5 -0.8L54.9 -0.3L54 0L53.2 0L52.3 -0.3L52 -0.5L51.7 -1.1M59 -5.7L58.1 -5.4L57.8 -4.9L57.8 -4.3L58.1 -3.8L58.7 -3.5L59.8 -3.2L60.7 -3L61.3 -2.4L61.6 -1.9L61.6 -1.1L61.3 -0.5L61 -0.3L60.1 0L59 0L58.1 -0.3L57.8 -0.5L57.5 -1.1L57.5 -1.9L57.8 -2.4L58.4 -3L59.2 -3.2L60.4 -3.5L61 -3.8L61.3 -4.3L61.3 -4.9L61 -5.4L60.1 -5.7L59 -5.7M72.2 -4.3L72 -4.9L71.4 -5.4L70.8 -5.7L69.6 -5.7L69.1 -5.4L68.5 -4.9L68.2 -4.3L67.9 -3.5L67.9 -2.2L68.2 -1.4L68.5 -0.8L69.1 -0.3L69.6 0L70.8 0L71.4 -0.3L72 -0.8L72.2 -1.4L72.2 -2.2M70.8 -2.2L72.2 -2.2M74 -2.2L77.5 -2.2L77.5 -2.7L77.2 -3.2L76.9 -3.5L76.3 -3.8L75.4 -3.8L74.9 -3.5L74.3 -3L74 -2.2L74 -1.6L74.3 -0.8L74.9 -0.3L75.4 0L76.3 0L76.9 -0.3L77.5 -0.8M78.6 -5.7L80.9 0M83.2 -5.7L80.9 0"/>
<path class="tx" transform="translate(-42.6,112.56) rotate(-90)" d="M1.2 -3.8L1.2 0M1.2 -2.7L2 -3.5L2.6 -3.8L3.5 -3.8L4 -3.5L4.3 -2.7L4.3 0M6.18 0.05Q7.68 0.00 8.48 1.20M9.78 -0.05L7.28 3.95M17.9 -3.8L17.9 0M17.9 -3L17.3 -3.5L16.8 -3.8L15.9 -3.8L15.3 -3.5L14.7 -3L14.4 -2.2L14.4 -1.6L14.7 -0.8L15.3 -0.3L15.9 0L16.8 0L17.3 -0.3L17.9 -0.8M20.5 -5.7L20.5 -1.1L20.8 -0.3L21.4 0L22 0M19.7 -3.8L21.7 -3.8M37.9 -5.7L41 -5.7L39.3 -3.5L40.2 -3.5L40.7 -3.2L41 -3L41.3 -2.2L41.3 -1.6L41 -0.8L40.5 -0.3L39.6 0L38.7 0L37.9 -0.3L37.6 -0.5L37.3 -1.1M43.6 -0.5L43.3 -0.3L43.6 0L43.9 -0.3L43.6 -0.5M49.7 -4.9L49.4 -5.4L48.6 -5.7L48 -5.7L47.1 -5.4L46.5 -4.6L46.2 -3.2L46.2 -1.9L46.5 -0.8L47.1 -0.3L48 0L48.3 0L49.1 -0.3L49.7 -0.8L50 -1.6L50 -1.9L49.7 -2.7L49.1 -3.2L48.3 -3.5L48 -3.5L47.1 -3.2L46.5 -2.7L46.2 -1.9M55.2 -5.7L52.3 -5.7L52 -3.2L52.3 -3.5L53.2 -3.8L54 -3.8L54.9 -3.5L55.5 -3L55.8 -2.2L55.8 -1.6L55.5 -0.8L54.9 -0.3L54 0L53.2 0L52.3 -0.3L52 -0.5L51.7 -1.1M57.8 -4.3L57.8 -4.6L58.1 -5.1L58.4 -5.4L59 -5.7L60.1 -5.7L60.7 -5.4L61 -5.1L61.3 -4.6L61.3 -4.1L61 -3.5L60.4 -2.7L57.5 0L61.6 0M72.2 -4.3L72 -4.9L71.4 -5.4L70.8 -5.7L69.6 -5.7L69.1 -5.4L68.5 -4.9L68.2 -4.3L67.9 -3.5L67.9 -2.2L68.2 -1.4L68.5 -0.8L69.1 -0.3L69.6 0L70.8 0L71.4 -0.3L72 -0.8L72.2 -1.4L72.2 -2.2M70.8 -2.2L72.2 -2.2M74 -2.2L77.5 -2.2L77.5 -2.7L77.2 -3.2L76.9 -3.5L76.3 -3.8L75.4 -3.8L74.9 -3.5L74.3 -3L74 -2.2L74 -1.6L74.3 -0.8L74.9 -0.3L75.4 0L76.3 0L76.9 -0.3L77.5 -0.8M78.6 -5.7L80.9 0M83.2 -5.7L80.9 0"/>
</g>
<g transform="translate(623.60,15.30)">
<rect x="7.20" y="44.90" width="2.60" height="5.50" fill="#ff0000"/>
<rect x="7.20" y="53.30" width="2.60" height="3.00" fill="#ff0000"/>
<rect x="7.20" y="64.50" width="2.60" height="3.00" fill="#ff0000"/>
<rect x="62.60" y="44.90" width="2.80" height="3.60" fill="#ff6400"/>
<rect x="62.60" y="47.70" width="2.80" height="2.70" fill="#ff0000"/>
<rect x="62.60" y="53.30" width="2.80" height="3.00" fill="#ff0000"/>
<rect x="62.60" y="64.50" width="2.80" height="3.00" fill="#ff00ff"/>
<rect x="62.60" y="128.70" width="2.80" height="2.90" fill="#ff00ff"/>
<rect x="72.50" y="44.90" width="2.60" height="5.50" fill="#ff0000"/>
<rect x="72.50" y="53.30" width="2.60" height="3.00" fill="#ff00ff"/>
<rect x="72.50" y="64.50" width="2.60" height="3.00" fill="#ff00ff"/>
<rect x="72.50" y="128.70" width="2.60" height="2.90" fill="#ff00ff"/>
<rect x="77.40" y="44.90" width="8.00" height="3.40" fill="#ff2800"/>
<rect x="77.40" y="47.50" width="8.00" height="2.90" fill="#ff0000"/>
<rect x="84.60" y="44.90" width="2.40" height="5.50" fill="#ff5000"/>
<rect x="77.40" y="53.30" width="7.80" height="3.00" fill="#ff0000"/>
<rect x="84.40" y="53.30" width="2.60" height="3.00" fill="#ff2800"/>
<rect x="77.40" y="64.50" width="3.00" height="3.00" fill="#ff00ff"/>
<rect x="79.60" y="64.50" width="7.40" height="3.00" fill="#ff0a00"/>
<rect x="77.20" y="128.70" width="3.10" height="2.90" fill="#ff00ff"/>
<rect x="79.50" y="128.70" width="7.40" height="2.90" fill="#ff0000"/>
<use href="#axes"/>
<path class="tx" transform="translate(17.74,163.95)" d="M1.2 -3.8L1.2 0M1.2 -2.7L2 -3.5L2.6 -3.8L3.5 -3.8L4 -3.5L4.3 -2.7L4.3 0M6.18 0.05Q7.68 0.00 8.48 1.20M9.78 -0.05L7.28 3.95M17.9 -3.8L17.9 0M17.9 -3L17.3 -3.5L16.8 -3.8L15.9 -3.8L15.3 -3.5L14.7 -3L14.4 -2.2L14.4 -1.6L14.7 -0.8L15.3 -0.3L15.9 0L16.8 0L17.3 -0.3L17.9 -0.8M20.5 -5.7L20.5 -1.1L20.8 -0.3L21.4 0L22 0M19.7 -3.8L21.7 -3.8M37.9 -5.7L41 -5.7L39.3 -3.5L40.2 -3.5L40.7 -3.2L41 -3L41.3 -2.2L41.3 -1.6L41 -0.8L40.5 -0.3L39.6 0L38.7 0L37.9 -0.3L37.6 -0.5L37.3 -1.1M43.6 -0.5L43.3 -0.3L43.6 0L43.9 -0.3L43.6 -0.5M49.7 -4.9L49.4 -5.4L48.6 -5.7L48 -5.7L47.1 -5.4L46.5 -4.6L46.2 -3.2L46.2 -1.9L46.5 -0.8L47.1 -0.3L48 0L48.3 0L49.1 -0.3L49.7 -0.8L50 -1.6L50 -1.9L49.7 -2.7L49.1 -3.2L48.3 -3.5L48 -3.5L47.1 -3.2L46.5 -2.7L46.2 -1.9M55.2 -5.7L52.3 -5.7L52 -3.2L52.3 -3.5L53.2 -3.8L54 -3.8L54.9 -3.5L55.5 -3L55.8 -2.2L55.8 -1.6L55.5 -0.8L54.9 -0.3L54 0L53.2 0L52.3 -0.3L52 -0.5L51.7 -1.1M57.8 -4.3L57.8 -4.6L58.1 -5.1L58.4 -5.4L59 -5.7L60.1 -5.7L60.7 -5.4L61 -5.1L61.3 -4.6L61.3 -4.1L61 -3.5L60.4 -2.7L57.5 0L61.6 0M72.2 -4.3L72 -4.9L71.4 -5.4L70.8 -5.7L69.6 -5.7L69.1 -5.4L68.5 -4.9L68.2 -4.3L67.9 -3.5L67.9 -2.2L68.2 -1.4L68.5 -0.8L69.1 -0.3L69.6 0L70.8 0L71.4 -0.3L72 -0.8L72.2 -1.4L72.2 -2.2M70.8 -2.2L72.2 -2.2M74 -2.2L77.5 -2.2L77.5 -2.7L77.2 -3.2L76.9 -3.5L76.3 -3.8L75.4 -3.8L74.9 -3.5L74.3 -3L74 -2.2L74 -1.6L74.3 -0.8L74.9 -0.3L75.4 0L76.3 0L76.9 -0.3L77.5 -0.8M78.6 -5.7L80.9 0M83.2 -5.7L80.9 0"/>
<path class="tx" transform="translate(-42.6,112.56) rotate(-90)" d="M1.2 -3.8L1.2 0M1.2 -2.7L2 -3.5L2.6 -3.8L3.5 -3.8L4 -3.5L4.3 -2.7L4.3 0M6.18 0.05Q7.68 0.00 8.48 1.20M9.78 -0.05L7.28 3.95M17.9 -3.8L17.9 0M17.9 -3L17.3 -3.5L16.8 -3.8L15.9 -3.8L15.3 -3.5L14.7 -3L14.4 -2.2L14.4 -1.6L14.7 -0.8L15.3 -0.3L15.9 0L16.8 0L17.3 -0.3L17.9 -0.8M20.5 -5.7L20.5 -1.1L20.8 -0.3L21.4 0L22 0M19.7 -3.8L21.7 -3.8M40.2 -5.7L37.3 -1.9L41.6 -1.9M40.2 -5.7L40.2 0M43.6 -0.5L43.3 -0.3L43.6 0L43.9 -0.3L43.6 -0.5M47.4 -5.7L46.5 -5.4L46.2 -4.9L46.2 -4.3L46.5 -3.8L47.1 -3.5L48.3 -3.2L49.1 -3L49.7 -2.4L50 -1.9L50 -1.1L49.7 -0.5L49.4 -0.3L48.6 0L47.4 0L46.5 -0.3L46.2 -0.5L46 -1.1L46 -1.9L46.2 -2.4L46.8 -3L47.7 -3.2L48.8 -3.5L49.4 -3.8L49.7 -4.3L49.7 -4.9L49.4 -5.4L48.6 -5.7L47.4 -5.7M55.8 -5.7L52.9 0M51.7 -5.7L55.8 -5.7M59.2 -5.7L58.4 -5.4L57.8 -4.6L57.5 -3.2L57.5 -2.4L57.8 -1.1L58.4 -0.3L59.2 0L59.8 0L60.7 -0.3L61.3 -1.1L61.6 -2.4L61.6 -3.2L61.3 -4.6L60.7 -5.4L59.8 -5.7L59.2 -5.7M72.2 -4.3L72 -4.9L71.4 -5.4L70.8 -5.7L69.6 -5.7L69.1 -5.4L68.5 -4.9L68.2 -4.3L67.9 -3.5L67.9 -2.2L68.2 -1.4L68.5 -0.8L69.1 -0.3L69.6 0L70.8 0L71.4 -0.3L72 -0.8L72.2 -1.4L72.2 -2.2M70.8 -2.2L72.2 -2.2M74 -2.2L77.5 -2.2L77.5 -2.7L77.2 -3.2L76.9 -3.5L76.3 -3.8L75.4 -3.8L74.9 -3.5L74.3 -3L74 -2.2L74 -1.6L74.3 -0.8L74.9 -0.3L75.4 0L76.3 0L76.9 -0.3L77.5 -0.8M78.6 -5.7L80.9 0M83.2 -5.7L80.9 0"/>
</g>
<g transform="translate(49.20,206.90)">
<rect x="6.80" y="47.90" width="2.80" height="2.70" fill="#ff0000"/>
<rect x="6.80" y="53.30" width="2.80" height="2.80" fill="#ff00ff"/>
<rect x="6.80" y="64.50" width="2.80" height="2.90" fill="#ff00ff"/>
<rect x="62.50" y="47.90" width="2.60" height="2.70" fill="#ff0000"/>
<rect x="62.50" y="53.30" width="2.60" height="2.80" fill="#ff00ff"/>
<rect x="62.50" y="64.50" width="2.60" height="2.90" fill="#ff00ff"/>
<rect x="62.50" y="128.80" width="2.60" height="2.90" fill="#ff00ff"/>
<rect x="71.90" y="47.90" width="2.80" height="2.70" fill="#ff0000"/>
<rect x="71.90" y="53.30" width="2.80" height="2.80" fill="#ff00ff"/>
<rect x="71.90" y="64.50" width="2.80" height="2.90" fill="#ff00ff"/>
<rect x="71.90" y="128.80" width="2.80" height="2.90" fill="#ff00ff"/>
<rect x="76.90" y="47.90" width="3.30" height="2.70" fill="#ff0000"/>
<rect x="79.40" y="47.90" width="2.50" height="2.70" fill="#ff4600"/>
<rect x="76.90" y="53.30" width="3.30" height="2.80" fill="#ff0000"/>
<rect x="79.40" y="53.30" width="2.50" height="2.80" fill="#ff0000"/>
<rect x="76.90" y="64.50" width="3.30" height="2.90" fill="#ff00ff"/>
<rect x="79.40" y="64.50" width="2.50" height="2.90" fill="#ff0000"/>
<rect x="76.90" y="128.80" width="3.30" height="2.90" fill="#ff00ff"/>
<rect x="79.40" y="128.80" width="2.50" height="2.90" fill="#ff0000"/>
<use href="#axes"/>
<path class="tx" transform="translate(17.74,163.95)" d="M1.2 -3.8L1.2 0M1.2 -2.7L2 -3.5L2.6 -3.8L3.5 -3.8L4 -3.5L4.3 -2.7L4.3 0M6.18 0.05Q7.68 0.00 8.48 1.20M9.78 -0.05L7.28 3.95M17.9 -3.8L17.9 0M17.9 -3L17.3 -3.5L16.8 -3.8L15.9 -3.8L15.3 -3.5L14.7 -3L14.4 -2.2L14.4 -1.6L14.7 -0.8L15.3 -0.3L15.9 0L16.8 0L17.3 -0.3L17.9 -0.8M20.5 -5.7L20.5 -1.1L20.8 -0.3L21.4 0L22 0M19.7 -3.8L21.7 -3.8M40.2 -5.7L37.3 -1.9L41.6 -1.9M40.2 -5.7L40.2 0M43.6 -0.5L43.3 -0.3L43.6 0L43.9 -0.3L43.6 -0.5M47.4 -5.7L46.5 -5.4L46.2 -4.9L46.2 -4.3L46.5 -3.8L47.1 -3.5L48.3 -3.2L49.1 -3L49.7 -2.4L50 -1.9L50 -1.1L49.7 -0.5L49.4 -0.3L48.6 0L47.4 0L46.5 -0.3L46.2 -0.5L46 -1.1L46 -1.9L46.2 -2.4L46.8 -3L47.7 -3.2L48.8 -3.5L49.4 -3.8L49.7 -4.3L49.7 -4.9L49.4 -5.4L48.6 -5.7L47.4 -5.7M55.8 -5.7L52.9 0M51.7 -5.7L55.8 -5.7M59.2 -5.7L58.4 -5.4L57.8 -4.6L57.5 -3.2L57.5 -2.4L57.8 -1.1L58.4 -0.3L59.2 0L59.8 0L60.7 -0.3L61.3 -1.1L61.6 -2.4L61.6 -3.2L61.3 -4.6L60.7 -5.4L59.8 -5.7L59.2 -5.7M72.2 -4.3L72 -4.9L71.4 -5.4L70.8 -5.7L69.6 -5.7L69.1 -5.4L68.5 -4.9L68.2 -4.3L67.9 -3.5L67.9 -2.2L68.2 -1.4L68.5 -0.8L69.1 -0.3L69.6 0L70.8 0L71.4 -0.3L72 -0.8L72.2 -1.4L72.2 -2.2M70.8 -2.2L72.2 -2.2M74 -2.2L77.5 -2.2L77.5 -2.7L77.2 -3.2L76.9 -3.5L76.3 -3.8L75.4 -3.8L74.9 -3.5L74.3 -3L74 -2.2L74 -1.6L74.3 -0.8L74.9 -0.3L75.4 0L76.3 0L76.9 -0.3L77.5 -0.8M78.6 -5.7L80.9 0M83.2 -5.7L80.9 0"/>
<path class="tx" transform="translate(-42.6,112.56) rotate(-90)" d="M1.2 -3.8L1.2 0M1.2 -2.7L2 -3.5L2.6 -3.8L3.5 -3.8L4 -3.5L4.3 -2.7L4.3 0M6.18 0.05Q7.68 0.00 8.48 1.20M9.78 -0.05L7.28 3.95M17.9 -3.8L17.9 0M17.9 -3L17.3 -3.5L16.8 -3.8L15.9 -3.8L15.3 -3.5L14.7 -3L14.4 -2.2L14.4 -1.6L14.7 -0.8L15.3 -0.3L15.9 0L16.8 0L17.3 -0.3L17.9 -0.8M20.5 -5.7L20.5 -1.1L20.8 -0.3L21.4 0L22 0M19.7 -3.8L21.7 -3.8M41 -4.9L40.7 -5.4L39.9 -5.7L39.3 -5.7L38.4 -5.4L37.9 -4.6L37.6 -3.2L37.6 -1.9L37.9 -0.8L38.4 -0.3L39.3 0L39.6 0L40.5 -0.3L41 -0.8L41.3 -1.6L41.3 -1.9L41 -2.7L40.5 -3.2L39.6 -3.5L39.3 -3.5L38.4 -3.2L37.9 -2.7L37.6 -1.9M43.6 -0.5L43.3 -0.3L43.6 0L43.9 -0.3L43.6 -0.5M48.8 -5.7L46 -1.9L50.3 -1.9M48.8 -5.7L48.8 0M55.5 -3.8L55.2 -3L54.6 -2.4L53.8 -2.2L53.5 -2.2L52.6 -2.4L52 -3L51.7 -3.8L51.7 -4.1L52 -4.9L52.6 -5.4L53.5 -5.7L53.8 -5.7L54.6 -5.4L55.2 -4.9L55.5 -3.8L55.5 -2.4L55.2 -1.1L54.6 -0.3L53.8 0L53.2 0L52.3 -0.3L52 -0.8M60.4 -5.7L57.5 -1.9L61.8 -1.9M60.4 -5.7L60.4 0M72.2 -4.3L72 -4.9L71.4 -5.4L70.8 -5.7L69.6 -5.7L69.1 -5.4L68.5 -4.9L68.2 -4.3L67.9 -3.5L67.9 -2.2L68.2 -1.4L68.5 -0.8L69.1 -0.3L69.6 0L70.8 0L71.4 -0.3L72 -0.8L72.2 -1.4L72.2 -2.2M70.8 -2.2L72.2 -2.2M74 -2.2L77.5 -2.2L77.5 -2.7L77.2 -3.2L76.9 -3.5L76.3 -3.8L75.4 -3.8L74.9 -3.5L74.3 -3L74 -2.2L74 -1.6L74.3 -0.8L74.9 -0.3L75.4 0L76.3 0L76.9 -0.3L77.5 -0.8M78.6 -5.7L80.9 0M83.2 -5.7L80.9 0"/>
</g>
<g transform="translate(240.70,206.90)">
<rect x="6.80" y="53.30" width="2.80" height="2.80" fill="#ff00ff"/>
<rect x="6.80" y="64.50" width="2.80" height="2.90" fill="#ff00ff"/>
<rect x="62.50" y="53.30" width="2.60" height="2.80" fill="#ff0000"/>
<rect x="62.50" y="64.50" width="2.60" height="2.90" fill="#ff00ff"/>
<rect x="62.50" y="128.80" width="2.60" height="2.90" fill="#ff00ff"/>
<rect x="71.90" y="53.30" width="2.80" height="2.80" fill="#ff0000"/>
<rect x="71.90" y="64.50" width="2.80" height="2.90" fill="#ff00ff"/>
<rect x="71.90" y="128.80" width="2.80" height="2.90" fill="#ff00ff"/>
<rect x="76.90" y="53.30" width="2.50" height="2.80" fill="#ff0000"/>
<rect x="76.90" y="64.50" width="2.50" height="2.90" fill="#ff0000"/>
<rect x="76.90" y="128.80" width="2.50" height="2.90" fill="#ff00ff"/>
<use href="#axes"/>
<path class="tx" transform="translate(17.74,163.95)" d="M1.2 -3.8L1.2 0M1.2 -2.7L2 -3.5L2.6 -3.8L3.5 -3.8L4 -3.5L4.3 -2.7L4.3 0M6.18 0.05Q7.68 0.00 8.48 1.20M9.78 -0.05L7.28 3.95M17.9 -3.8L17.9 0M17.9 -3L17.3 -3.5L16.8 -3.8L15.9 -3.8L15.3 -3.5L14.7 -3L14.4 -2.2L14.4 -1.6L14.7 -0.8L15.3 -0.3L15.9 0L16.8 0L17.3 -0.3L17.9 -0.8M20.5 -5.7L20.5 -1.1L20.8 -0.3L21.4 0L22 0M19.7 -3.8L21.7 -3.8M41 -4.9L40.7 -5.4L39.9 -5.7L39.3 -5.7L38.4 -5.4L37.9 -4.6L37.6 -3.2L37.6 -1.9L37.9 -0.8L38.4 -0.3L39.3 0L39.6 0L40.5 -0.3L41 -0.8L41.3 -1.6L41.3 -1.9L41 -2.7L40.5 -3.2L39.6 -3.5L39.3 -3.5L38.4 -3.2L37.9 -2.7L37.6 -1.9M43.6 -0.5L43.3 -0.3L43.6 0L43.9 -0.3L43.6 -0.5M48.8 -5.7L46 -1.9L50.3 -1.9M48.8 -5.7L48.8 0M55.5 -3.8L55.2 -3L54.6 -2.4L53.8 -2.2L53.5 -2.2L52.6 -2.4L52 -3L51.7 -3.8L51.7 -4.1L52 -4.9L52.6 -5.4L53.5 -5.7L53.8 -5.7L54.6 -5.4L55.2 -4.9L55.5 -3.8L55.5 -2.4L55.2 -1.1L54.6 -0.3L53.8 0L53.2 0L52.3 -0.3L52 -0.8M60.4 -5.7L57.5 -1.9L61.8 -1.9M60.4 -5.7L60.4 0M72.2 -4.3L72 -4.9L71.4 -5.4L70.8 -5.7L69.6 -5.7L69.1 -5.4L68.5 -4.9L68.2 -4.3L67.9 -3.5L67.9 -2.2L68.2 -1.4L68.5 -0.8L69.1 -0.3L69.6 0L70.8 0L71.4 -0.3L72 -0.8L72.2 -1.4L72.2 -2.2M70.8 -2.2L72.2 -2.2M74 -2.2L77.5 -2.2L77.5 -2.7L77.2 -3.2L76.9 -3.5L76.3 -3.8L75.4 -3.8L74.9 -3.5L74.3 -3L74 -2.2L74 -1.6L74.3 -0.8L74.9 -0.3L75.4 0L76.3 0L76.9 -0.3L77.5 -0.8M78.6 -5.7L80.9 0M83.2 -5.7L80.9 0"/>
<path class="tx" transform="translate(-42.6,112.56) rotate(-90)" d="M1.2 -3.8L1.2 0M1.2 -2.7L2 -3.5L2.6 -3.8L3.5 -3.8L4 -3.5L4.3 -2.7L4.3 0M6.18 0.05Q7.68 0.00 8.48 1.20M9.78 -0.05L7.28 3.95M17.9 -3.8L17.9 0M17.9 -3L17.3 -3.5L16.8 -3.8L15.9 -3.8L15.3 -3.5L14.7 -3L14.4 -2.2L14.4 -1.6L14.7 -0.8L15.3 -0.3L15.9 0L16.8 0L17.3 -0.3L17.9 -0.8M20.5 -5.7L20.5 -1.1L20.8 -0.3L21.4 0L22 0M19.7 -3.8L21.7 -3.8M38.7 -5.7L37.9 -5.4L37.6 -4.9L37.6 -4.3L37.9 -3.8L38.4 -3.5L39.6 -3.2L40.5 -3L41 -2.4L41.3 -1.9L41.3 -1.1L41 -0.5L40.7 -0.3L39.9 0L38.7 0L37.9 -0.3L37.6 -0.5L37.3 -1.1L37.3 -1.9L37.6 -2.4L38.1 -3L39 -3.2L40.2 -3.5L40.7 -3.8L41 -4.3L41 -4.9L40.7 -5.4L39.9 -5.7L38.7 -5.7M43.6 -0.5L43.3 -0.3L43.6 0L43.9 -0.3L43.6 -0.5M49.7 -4.9L49.4 -5.4L48.6 -5.7L48 -5.7L47.1 -5.4L46.5 -4.6L46.2 -3.2L46.2 -1.9L46.5 -0.8L47.1 -0.3L48 0L48.3 0L49.1 -0.3L49.7 -0.8L50 -1.6L50 -1.9L49.7 -2.7L49.1 -3.2L48.3 -3.5L48 -3.5L47.1 -3.2L46.5 -2.7L46.2 -1.9M55.5 -4.9L55.2 -5.4L54.3 -5.7L53.8 -5.7L52.9 -5.4L52.3 -4.6L52 -3.2L52 -1.9L52.3 -0.8L52.9 -0.3L53.8 0L54 0L54.9 -0.3L55.5 -0.8L55.8 -1.6L55.8 -1.9L55.5 -2.7L54.9 -3.2L54 -3.5L53.8 -3.5L52.9 -3.2L52.3 -2.7L52 -1.9M59.2 -5.7L58.4 -5.4L57.8 -4.6L57.5 -3.2L57.5 -2.4L57.8 -1.1L58.4 -0.3L59.2 0L59.8 0L60.7 -0.3L61.3 -1.1L61.6 -2.4L61.6 -3.2L61.3 -4.6L60.7 -5.4L59.8 -5.7L59.2 -5.7M72.2 -4.3L72 -4.9L71.4 -5.4L70.8 -5.7L69.6 -5.7L69.1 -5.4L68.5 -4.9L68.2 -4.3L67.9 -3.5L67.9 -2.2L68.2 -1.4L68.5 -0.8L69.1 -0.3L69.6 0L70.8 0L71.4 -0.3L72 -0.8L72.2 -1.4L72.2 -2.2M70.8 -2.2L72.2 -2.2M74 -2.2L77.5 -2.2L77.5 -2.7L77.2 -3.2L76.9 -3.5L76.3 -3.8L75.4 -3.8L74.9 -3.5L74.3 -3L74 -2.2L74 -1.6L74.3 -0.8L74.9 -0.3L75.4 0L76.3 0L76.9 -0.3L77.5 -0.8M78.6 -5.7L80.9 0M83.2 -5.7L80.9 0"/>
</g>
<g transform="translate(432.40,206.90)">
<rect x="6.80" y="53.30" width="2.80" height="2.80" fill="#ff00ff"/>
<rect x="6.80" y="64.50" width="2.80" height="2.90" fill="#ff00ff"/>
<rect x="62.50" y="53.30" width="2.60" height="2.80" fill="#ff0000"/>
<rect x="62.50" y="64.50" width="2.60" height="2.90" fill="#ff00ff"/>
<rect x="62.50" y="128.80" width="2.60" height="2.90" fill="#ff00ff"/>
<rect x="71.90" y="53.30" width="2.80" height="2.80" fill="#ff0000"/>
<rect x="71.90" y="64.50" width="2.80" height="2.90" fill="#ff00ff"/>
<rect x="71.90" y="128.80" width="2.80" height="2.90" fill="#ff00ff"/>
<use href="#axes"/>
<path class="tx" transform="translate(17.74,163.95)" d="M1.2 -3.8L1.2 0M1.2 -2.7L2 -3.5L2.6 -3.8L3.5 -3.8L4 -3.5L4.3 -2.7L4.3 0M6.18 0.05Q7.68 0.00 8.48 1.20M9.78 -0.05L7.28 3.95M17.9 -3.8L17.9 0M17.9 -3L17.3 -3.5L16.8 -3.8L15.9 -3.8L15.3 -3.5L14.7 -3L14.4 -2.2L14.4 -1.6L14.7 -0.8L15.3 -0.3L15.9 0L16.8 0L17.3 -0.3L17.9 -0.8M20.5 -5.7L20.5 -1.1L20.8 -0.3L21.4 0L22 0M19.7 -3.8L21.7 -3.8M38.7 -5.7L37.9 -5.4L37.6 -4.9L37.6 -4.3L37.9 -3.8L38.4 -3.5L39.6 -3.2L40.5 -3L41 -2.4L41.3 -1.9L41.3 -1.1L41 -0.5L40.7 -0.3L39.9 0L38.7 0L37.9 -0.3L37.6 -0.5L37.3 -1.1L37.3 -1.9L37.6 -2.4L38.1 -3L39 -3.2L40.2 -3.5L40.7 -3.8L41 -4.3L41 -4.9L40.7 -5.4L39.9 -5.7L38.7 -5.7M43.6 -0.5L43.3 -0.3L43.6 0L43.9 -0.3L43.6 -0.5M49.7 -4.9L49.4 -5.4L48.6 -5.7L48 -5.7L47.1 -5.4L46.5 -4.6L46.2 -3.2L46.2 -1.9L46.5 -0.8L47.1 -0.3L48 0L48.3 0L49.1 -0.3L49.7 -0.8L50 -1.6L50 -1.9L49.7 -2.7L49.1 -3.2L48.3 -3.5L48 -3.5L47.1 -3.2L46.5 -2.7L46.2 -1.9M55.5 -4.9L55.2 -5.4L54.3 -5.7L53.8 -5.7L52.9 -5.4L52.3 -4.6L52 -3.2L52 -1.9L52.3 -0.8L52.9 -0.3L53.8 0L54 0L54.9 -0.3L55.5 -0.8L55.8 -1.6L55.8 -1.9L55.5 -2.7L54.9 -3.2L54 -3.5L53.8 -3.5L52.9 -3.2L52.3 -2.7L52 -1.9M59.2 -5.7L58.4 -5.4L57.8 -4.6L57.5 -3.2L57.5 -2.4L57.8 -1.1L58.4 -0.3L59.2 0L59.8 0L60.7 -0.3L61.3 -1.1L61.6 -2.4L61.6 -3.2L61.3 -4.6L60.7 -5.4L59.8 -5.7L59.2 -5.7M72.2 -4.3L72 -4.9L71.4 -5.4L70.8 -5.7L69.6 -5.7L69.1 -5.4L68.5 -4.9L68.2 -4.3L67.9 -3.5L67.9 -2.2L68.2 -1.4L68.5 -0.8L69.1 -0.3L69.6 0L70.8 0L71.4 -0.3L72 -0.8L72.2 -1.4L72.2 -2.2M70.8 -2.2L72.2 -2.2M74 -2.2L77.5 -2.2L77.5 -2.7L77.2 -3.2L76.9 -3.5L76.3 -3.8L75.4 -3.8L74.9 -3.5L74.3 -3L74 -2.2L74 -1.6L74.3 -0.8L74.9 -0.3L75.4 0L76.3 0L76.9 -0.3L77.5 -0.8M78.6 -5.7L80.9 0M83.2 -5.7L80.9 0"/>
<path class="tx" transform="translate(-42.6,113.14) rotate(-90)" d="M1.2 -3.8L1.2 0M1.2 -2.7L2 -3.5L2.6 -3.8L3.5 -3.8L4 -3.5L4.3 -2.7L4.3 0M6.18 0.05Q7.68 0.00 8.48 1.20M9.78 -0.05L7.28 3.95M17.9 -3.8L17.9 0M17.9 -3L17.3 -3.5L16.8 -3.8L15.9 -3.8L15.3 -3.5L14.7 -3L14.4 -2.2L14.4 -1.6L14.7 -0.8L15.3 -0.3L15.9 0L16.8 0L17.3 -0.3L17.9 -0.8M20.5 -5.7L20.5 -1.1L20.8 -0.3L21.4 0L22 0M19.7 -3.8L21.7 -3.8M33.5 -4.6L34.1 -4.9L35 -5.7L35 0M39.3 -4.6L39.9 -4.9L40.7 -5.7L40.7 0M44.8 -0.5L44.5 -0.3L44.8 0L45.1 -0.3L44.8 -0.5M50.6 -5.7L47.7 -5.7L47.4 -3.2L47.7 -3.5L48.6 -3.8L49.4 -3.8L50.3 -3.5L50.9 -3L51.2 -2.2L51.2 -1.6L50.9 -0.8L50.3 -0.3L49.4 0L48.6 0L47.7 -0.3L47.4 -0.5L47.1 -1.1M55.8 -5.7L52.9 -1.9L57.2 -1.9M55.8 -5.7L55.8 0M60.1 -5.7L59.2 -5.4L59 -4.9L59 -4.3L59.2 -3.8L59.8 -3.5L61 -3.2L61.8 -3L62.4 -2.4L62.7 -1.9L62.7 -1.1L62.4 -0.5L62.1 -0.3L61.3 0L60.1 0L59.2 -0.3L59 -0.5L58.7 -1.1L58.7 -1.9L59 -2.4L59.5 -3L60.4 -3.2L61.6 -3.5L62.1 -3.8L62.4 -4.3L62.4 -4.9L62.1 -5.4L61.3 -5.7L60.1 -5.7M73.4 -4.3L73.1 -4.9L72.5 -5.4L72 -5.7L70.8 -5.7L70.2 -5.4L69.6 -4.9L69.4 -4.3L69.1 -3.5L69.1 -2.2L69.4 -1.4L69.6 -0.8L70.2 -0.3L70.8 0L72 0L72.5 -0.3L73.1 -0.8L73.4 -1.4L73.4 -2.2M72 -2.2L73.4 -2.2M75.1 -2.2L78.6 -2.2L78.6 -2.7L78.3 -3.2L78 -3.5L77.5 -3.8L76.6 -3.8L76 -3.5L75.4 -3L75.1 -2.2L75.1 -1.6L75.4 -0.8L76 -0.3L76.6 0L77.5 0L78 -0.3L78.6 -0.8M79.8 -5.7L82.1 0M84.4 -5.7L82.1 0"/>
</g>
<g transform="translate(623.60,206.90)">
<rect x="6.80" y="64.50" width="2.80" height="2.90" fill="#ff00ff"/>
<rect x="62.50" y="64.50" width="2.60" height="2.90" fill="#ff00ff"/>
<rect x="62.50" y="128.80" width="2.60" height="2.90" fill="#ff00ff"/>
<rect x="71.90" y="64.50" width="2.80" height="2.90" fill="#ff0000"/>
<rect x="71.90" y="128.80" width="2.80" height="2.90" fill="#ff00ff"/>
<use href="#axes"/>
<path class="tx" transform="translate(17.16,163.95)" d="M1.2 -3.8L1.2 0M1.2 -2.7L2 -3.5L2.6 -3.8L3.5 -3.8L4 -3.5L4.3 -2.7L4.3 0M6.18 0.05Q7.68 0.00 8.48 1.20M9.78 -0.05L7.28 3.95M17.9 -3.8L17.9 0M17.9 -3L17.3 -3.5L16.8 -3.8L15.9 -3.8L15.3 -3.5L14.7 -3L14.4 -2.2L14.4 -1.6L14.7 -0.8L15.3 -0.3L15.9 0L16.8 0L17.3 -0.3L17.9 -0.8M20.5 -5.7L20.5 -1.1L20.8 -0.3L21.4 0L22 0M19.7 -3.8L21.7 -3.8M33.5 -4.6L34.1 -4.9L35 -5.7L35 0M39.3 -4.6L39.9 -4.9L40.7 -5.7L40.7 0M44.8 -0.5L44.5 -0.3L44.8 0L45.1 -0.3L44.8 -0.5M50.6 -5.7L47.7 -5.7L47.4 -3.2L47.7 -3.5L48.6 -3.8L49.4 -3.8L50.3 -3.5L50.9 -3L51.2 -2.2L51.2 -1.6L50.9 -0.8L50.3 -0.3L49.4 0L48.6 0L47.7 -0.3L47.4 -0.5L47.1 -1.1M55.8 -5.7L52.9 -1.9L57.2 -1.9M55.8 -5.7L55.8 0M60.1 -5.7L59.2 -5.4L59 -4.9L59 -4.3L59.2 -3.8L59.8 -3.5L61 -3.2L61.8 -3L62.4 -2.4L62.7 -1.9L62.7 -1.1L62.4 -0.5L62.1 -0.3L61.3 0L60.1 0L59.2 -0.3L59 -0.5L58.7 -1.1L58.7 -1.9L59 -2.4L59.5 -3L60.4 -3.2L61.6 -3.5L62.1 -3.8L62.4 -4.3L62.4 -4.9L62.1 -5.4L61.3 -5.7L60.1 -5.7M73.4 -4.3L73.1 -4.9L72.5 -5.4L72 -5.7L70.8 -5.7L70.2 -5.4L69.6 -4.9L69.4 -4.3L69.1 -3.5L69.1 -2.2L69.4 -1.4L69.6 -0.8L70.2 -0.3L70.8 0L72 0L72.5 -0.3L73.1 -0.8L73.4 -1.4L73.4 -2.2M72 -2.2L73.4 -2.2M75.1 -2.2L78.6 -2.2L78.6 -2.7L78.3 -3.2L78 -3.5L77.5 -3.8L76.6 -3.8L76 -3.5L75.4 -3L75.1 -2.2L75.1 -1.6L75.4 -0.8L76 -0.3L76.6 0L77.5 0L78 -0.3L78.6 -0.8M79.8 -5.7L82.1 0M84.4 -5.7L82.1 0"/>
<path class="tx" transform="translate(-42.6,113.14) rotate(-90)" d="M1.2 -3.8L1.2 0M1.2 -2.7L2 -3.5L2.6 -3.8L3.5 -3.8L4 -3.5L4.3 -2.7L4.3 0M6.18 0.05Q7.68 0.00 8.48 1.20M9.78 -0.05L7.28 3.95M17.9 -3.8L17.9 0M17.9 -3L17.3 -3.5L16.8 -3.8L15.9 -3.8L15.3 -3.5L14.7 -3L14.4 -2.2L14.4 -1.6L14.7 -0.8L15.3 -0.3L15.9 0L16.8 0L17.3 -0.3L17.9 -0.8M20.5 -5.7L20.5 -1.1L20.8 -0.3L21.4 0L22 0M19.7 -3.8L21.7 -3.8M33.5 -4.6L34.1 -4.9L35 -5.7L35 0M41.9 -5.7L39 -5.7L38.7 -3.2L39 -3.5L39.9 -3.8L40.7 -3.8L41.6 -3.5L42.2 -3L42.5 -2.2L42.5 -1.6L42.2 -0.8L41.6 -0.3L40.7 0L39.9 0L39 -0.3L38.7 -0.5L38.4 -1.1M44.8 -0.5L44.5 -0.3L44.8 0L45.1 -0.3L44.8 -0.5M47.7 -5.7L50.9 -5.7L49.1 -3.5L50 -3.5L50.6 -3.2L50.9 -3L51.2 -2.2L51.2 -1.6L50.9 -0.8L50.3 -0.3L49.4 0L48.6 0L47.7 -0.3L47.4 -0.5L47.1 -1.1M56.6 -3.8L56.4 -3L55.8 -2.4L54.9 -2.2L54.6 -2.2L53.8 -2.4L53.2 -3L52.9 -3.8L52.9 -4.1L53.2 -4.9L53.8 -5.4L54.6 -5.7L54.9 -5.7L55.8 -5.4L56.4 -4.9L56.6 -3.8L56.6 -2.4L56.4 -1.1L55.8 -0.3L54.9 0L54.3 0L53.5 -0.3L53.2 -0.8M62.4 -3.8L62.1 -3L61.6 -2.4L60.7 -2.2L60.4 -2.2L59.5 -2.4L59 -3L58.7 -3.8L58.7 -4.1L59 -4.9L59.5 -5.4L60.4 -5.7L60.7 -5.7L61.6 -5.4L62.1 -4.9L62.4 -3.8L62.4 -2.4L62.1 -1.1L61.6 -0.3L60.7 0L60.1 0L59.2 -0.3L59 -0.8M73.4 -4.3L73.1 -4.9L72.5 -5.4L72 -5.7L70.8 -5.7L70.2 -5.4L69.6 -4.9L69.4 -4.3L69.1 -3.5L69.1 -2.2L69.4 -1.4L69.6 -0.8L70.2 -0.3L70.8 0L72 0L72.5 -0.3L73.1 -0.8L73.4 -1.4L73.4 -2.2M72 -2.2L73.4 -2.2M75.1 -2.2L78.6 -2.2L78.6 -2.7L78.3 -3.2L78 -3.5L77.5 -3.8L76.6 -3.8L76 -3.5L75.4 -3L75.1 -2.2L75.1 -1.6L75.4 -0.8L76 -0.3L76.6 0L77.5 0L78 -0.3L78.6 -0.8M79.8 -5.7L82.1 0M84.4 -5.7L82.1 0"/>
</g>
<g transform="translate(49.20,398.50)">
<rect x="6.80" y="64.50" width="2.80" height="2.90" fill="#ff00ff"/>
<rect x="62.50" y="64.50" width="2.60" height="2.90" fill="#ff00ff"/>
<rect x="62.50" y="128.80" width="2.60" height="2.90" fill="#ff00ff"/>
<use href="#axes"/>
<path class="tx" transform="translate(17.16,163.95)" d="M1.2 -3.8L1.2 0M1.2 -2.7L2 -3.5L2.6 -3.8L3.5 -3.8L4 -3.5L4.3 -2.7L4.3 0M6.18 0.05Q7.68 0.00 8.48 1.20M9.78 -0.05L7.28 3.95M17.9 -3.8L17.9 0M17.9 -3L17.3 -3.5L16.8 -3.8L15.9 -3.8L15.3 -3.5L14.7 -3L14.4 -2.2L14.4 -1.6L14.7 -0.8L15.3 -0.3L15.9 0L16.8 0L17.3 -0.3L17.9 -0.8M20.5 -5.7L20.5 -1.1L20.8 -0.3L21.4 0L22 0M19.7 -3.8L21.7 -3.8M33.5 -4.6L34.1 -4.9L35 -5.7L35 0M41.9 -5.7L39 -5.7L38.7 -3.2L39 -3.5L39.9 -3.8L40.7 -3.8L41.6 -3.5L42.2 -3L42.5 -2.2L42.5 -1.6L42.2 -0.8L41.6 -0.3L40.7 0L39.9 0L39 -0.3L38.7 -0.5L38.4 -1.1M44.8 -0.5L44.5 -0.3L44.8 0L45.1 -0.3L44.8 -0.5M47.7 -5.7L50.9 -5.7L49.1 -3.5L50 -3.5L50.6 -3.2L50.9 -3L51.2 -2.2L51.2 -1.6L50.9 -0.8L50.3 -0.3L49.4 0L48.6 0L47.7 -0.3L47.4 -0.5L47.1 -1.1M56.6 -3.8L56.4 -3L55.8 -2.4L54.9 -2.2L54.6 -2.2L53.8 -2.4L53.2 -3L52.9 -3.8L52.9 -4.1L53.2 -4.9L53.8 -5.4L54.6 -5.7L54.9 -5.7L55.8 -5.4L56.4 -4.9L56.6 -3.8L56.6 -2.4L56.4 -1.1L55.8 -0.3L54.9 0L54.3 0L53.5 -0.3L53.2 -0.8M62.4 -3.8L62.1 -3L61.6 -2.4L60.7 -2.2L60.4 -2.2L59.5 -2.4L59 -3L58.7 -3.8L58.7 -4.1L59 -4.9L59.5 -5.4L60.4 -5.7L60.7 -5.7L61.6 -5.4L62.1 -4.9L62.4 -3.8L62.4 -2.4L62.1 -1.1L61.6 -0.3L60.7 0L60.1 0L59.2 -0.3L59 -0.8M73.4 -4.3L73.1 -4.9L72.5 -5.4L72 -5.7L70.8 -5.7L70.2 -5.4L69.6 -4.9L69.4 -4.3L69.1 -3.5L69.1 -2.2L69.4 -1.4L69.6 -0.8L70.2 -0.3L70.8 0L72 0L72.5 -0.3L73.1 -0.8L73.4 -1.4L73.4 -2.2M72 -2.2L73.4 -2.2M75.1 -2.2L78.6 -2.2L78.6 -2.7L78.3 -3.2L78 -3.5L77.5 -3.8L76.6 -3.8L76 -3.5L75.4 -3L75.1 -2.2L75.1 -1.6L75.4 -0.8L76 -0.3L76.6 0L77.5 0L78 -0.3L78.6 -0.8M79.8 -5.7L82.1 0M84.4 -5.7L82.1 0"/>
<path class="tx" transform="translate(-42.6,113.14) rotate(-90)" d="M1.2 -3.8L1.2 0M1.2 -2.7L2 -3.5L2.6 -3.8L3.5 -3.8L4 -3.5L4.3 -2.7L4.3 0M6.18 0.05Q7.68 0.00 8.48 1.20M9.78 -0.05L7.28 3.95M17.9 -3.8L17.9 0M17.9 -3L17.3 -3.5L16.8 -3.8L15.9 -3.8L15.3 -3.5L14.7 -3L14.4 -2.2L14.4 -1.6L14.7 -0.8L15.3 -0.3L15.9 0L16.8 0L17.3 -0.3L17.9 -0.8M20.5 -5.7L20.5 -1.1L20.8 -0.3L21.4 0L22 0M19.7 -3.8L21.7 -3.8M32.9 -4.3L32.9 -4.6L33.2 -5.1L33.5 -5.4L34.1 -5.7L35.3 -5.7L35.8 -5.4L36.1 -5.1L36.4 -4.6L36.4 -4.1L36.1 -3.5L35.5 -2.7L32.7 0L36.7 0M40.2 -5.7L39.3 -5.4L38.7 -4.6L38.4 -3.2L38.4 -2.4L38.7 -1.1L39.3 -0.3L40.2 0L40.7 0L41.6 -0.3L42.2 -1.1L42.5 -2.4L42.5 -3.2L42.2 -4.6L41.6 -5.4L40.7 -5.7L40.2 -5.7M44.8 -0.5L44.5 -0.3L44.8 0L45.1 -0.3L44.8 -0.5M50.6 -5.7L47.7 -5.7L47.4 -3.2L47.7 -3.5L48.6 -3.8L49.4 -3.8L50.3 -3.5L50.9 -3L51.2 -2.2L51.2 -1.6L50.9 -0.8L50.3 -0.3L49.4 0L48.6 0L47.7 -0.3L47.4 -0.5L47.1 -1.1M53.5 -5.7L56.6 -5.7L54.9 -3.5L55.8 -3.5L56.4 -3.2L56.6 -3L56.9 -2.2L56.9 -1.6L56.6 -0.8L56.1 -0.3L55.2 0L54.3 0L53.5 -0.3L53.2 -0.5L52.9 -1.1M62.1 -5.7L59.2 -5.7L59 -3.2L59.2 -3.5L60.1 -3.8L61 -3.8L61.8 -3.5L62.4 -3L62.7 -2.2L62.7 -1.6L62.4 -0.8L61.8 -0.3L61 0L60.1 0L59.2 -0.3L59 -0.5L58.7 -1.1M73.4 -4.3L73.1 -4.9L72.5 -5.4L72 -5.7L70.8 -5.7L70.2 -5.4L69.6 -4.9L69.4 -4.3L69.1 -3.5L69.1 -2.2L69.4 -1.4L69.6 -0.8L70.2 -0.3L70.8 0L72 0L72.5 -0.3L73.1 -0.8L73.4 -1.4L73.4 -2.2M72 -2.2L73.4 -2.2M75.1 -2.2L78.6 -2.2L78.6 -2.7L78.3 -3.2L78 -3.5L77.5 -3.8L76.6 -3.8L76 -3.5L75.4 -3L75.1 -2.2L75.1 -1.6L75.4 -0.8L76 -0.3L76.6 0L77.5 0L78 -0.3L78.6 -0.8M79.8 -5.7L82.1 0M84.4 -5.7L82.1 0"/>
</g>
<g transform="translate(240.70,398.50)">
<rect x="6.80" y="64.50" width="2.80" height="2.90" fill="#ff00ff"/>
<rect x="62.50" y="64.50" width="2.60" height="2.90" fill="#ff0000"/>
<rect x="62.50" y="128.80" width="2.60" height="2.90" fill="#ff00ff"/>
<use href="#axes"/>
<path class="tx" transform="translate(17.16,163.95)" d="M1.2 -3.8L1.2 0M1.2 -2.7L2 -3.5L2.6 -3.8L3.5 -3.8L4 -3.5L4.3 -2.7L4.3 0M6.18 0.05Q7.68 0.00 8.48 1.20M9.78 -0.05L7.28 3.95M17.9 -3.8L17.9 0M17.9 -3L17.3 -3.5L16.8 -3.8L15.9 -3.8L15.3 -3.5L14.7 -3L14.4 -2.2L14.4 -1.6L14.7 -0.8L15.3 -0.3L15.9 0L16.8 0L17.3 -0.3L17.9 -0.8M20.5 -5.7L20.5 -1.1L20.8 -0.3L21.4 0L22 0M19.7 -3.8L21.7 -3.8M32.9 -4.3L32.9 -4.6L33.2 -5.1L33.5 -5.4L34.1 -5.7L35.3 -5.7L35.8 -5.4L36.1 -5.1L36.4 -4.6L36.4 -4.1L36.1 -3.5L35.5 -2.7L32.7 0L36.7 0M40.2 -5.7L39.3 -5.4L38.7 -4.6L38.4 -3.2L38.4 -2.4L38.7 -1.1L39.3 -0.3L40.2 0L40.7 0L41.6 -0.3L42.2 -1.1L42.5 -2.4L42.5 -3.2L42.2 -4.6L41.6 -5.4L40.7 -5.7L40.2 -5.7M44.8 -0.5L44.5 -0.3L44.8 0L45.1 -0.3L44.8 -0.5M50.6 -5.7L47.7 -5.7L47.4 -3.2L47.7 -3.5L48.6 -3.8L49.4 -3.8L50.3 -3.5L50.9 -3L51.2 -2.2L51.2 -1.6L50.9 -0.8L50.3 -0.3L49.4 0L48.6 0L47.7 -0.3L47.4 -0.5L47.1 -1.1M53.5 -5.7L56.6 -5.7L54.9 -3.5L55.8 -3.5L56.4 -3.2L56.6 -3L56.9 -2.2L56.9 -1.6L56.6 -0.8L56.1 -0.3L55.2 0L54.3 0L53.5 -0.3L53.2 -0.5L52.9 -1.1M62.1 -5.7L59.2 -5.7L59 -3.2L59.2 -3.5L60.1 -3.8L61 -3.8L61.8 -3.5L62.4 -3L62.7 -2.2L62.7 -1.6L62.4 -0.8L61.8 -0.3L61 0L60.1 0L59.2 -0.3L59 -0.5L58.7 -1.1M73.4 -4.3L73.1 -4.9L72.5 -5.4L72 -5.7L70.8 -5.7L70.2 -5.4L69.6 -4.9L69.4 -4.3L69.1 -3.5L69.1 -2.2L69.4 -1.4L69.6 -0.8L70.2 -0.3L70.8 0L72 0L72.5 -0.3L73.1 -0.8L73.4 -1.4L73.4 -2.2M72 -2.2L73.4 -2.2M75.1 -2.2L78.6 -2.2L78.6 -2.7L78.3 -3.2L78 -3.5L77.5 -3.8L76.6 -3.8L76 -3.5L75.4 -3L75.1 -2.2L75.1 -1.6L75.4 -0.8L76 -0.3L76.6 0L77.5 0L78 -0.3L78.6 -0.8M79.8 -5.7L82.1 0M84.4 -5.7L82.1 0"/>
<path class="tx" transform="translate(-42.6,113.14) rotate(-90)" d="M1.2 -3.8L1.2 0M1.2 -2.7L2 -3.5L2.6 -3.8L3.5 -3.8L4 -3.5L4.3 -2.7L4.3 0M6.18 0.05Q7.68 0.00 8.48 1.20M9.78 -0.05L7.28 3.95M17.9 -3.8L17.9 0M17.9 -3L17.3 -3.5L16.8 -3.8L15.9 -3.8L15.3 -3.5L14.7 -3L14.4 -2.2L14.4 -1.6L14.7 -0.8L15.3 -0.3L15.9 0L16.8 0L17.3 -0.3L17.9 -0.8M20.5 -5.7L20.5 -1.1L20.8 -0.3L21.4 0L22 0M19.7 -3.8L21.7 -3.8M32.9 -4.3L32.9 -4.6L33.2 -5.1L33.5 -5.4L34.1 -5.7L35.3 -5.7L35.8 -5.4L36.1 -5.1L36.4 -4.6L36.4 -4.1L36.1 -3.5L35.5 -2.7L32.7 0L36.7 0M42.5 -5.7L39.6 0M38.4 -5.7L42.5 -5.7M44.8 -0.5L44.5 -0.3L44.8 0L45.1 -0.3L44.8 -0.5M47.7 -5.7L50.9 -5.7L49.1 -3.5L50 -3.5L50.6 -3.2L50.9 -3L51.2 -2.2L51.2 -1.6L50.9 -0.8L50.3 -0.3L49.4 0L48.6 0L47.7 -0.3L47.4 -0.5L47.1 -1.1M54.3 -5.7L53.5 -5.4L53.2 -4.9L53.2 -4.3L53.5 -3.8L54 -3.5L55.2 -3.2L56.1 -3L56.6 -2.4L56.9 -1.9L56.9 -1.1L56.6 -0.5L56.4 -0.3L55.5 0L54.3 0L53.5 -0.3L53.2 -0.5L52.9 -1.1L52.9 -1.9L53.2 -2.4L53.8 -3L54.6 -3.2L55.8 -3.5L56.4 -3.8L56.6 -4.3L56.6 -4.9L56.4 -5.4L55.5 -5.7L54.3 -5.7M61.6 -5.7L58.7 -1.9L63 -1.9M61.6 -5.7L61.6 0M73.4 -4.3L73.1 -4.9L72.5 -5.4L72 -5.7L70.8 -5.7L70.2 -5.4L69.6 -4.9L69.4 -4.3L69.1 -3.5L69.1 -2.2L69.4 -1.4L69.6 -0.8L70.2 -0.3L70.8 0L72 0L72.5 -0.3L73.1 -0.8L73.4 -1.4L73.4 -2.2M72 -2.2L73.4 -2.2M75.1 -2.2L78.6 -2.2L78.6 -2.7L78.3 -3.2L78 -3.5L77.5 -3.8L76.6 -3.8L76 -3.5L75.4 -3L75.1 -2.2L75.1 -1.6L75.4 -0.8L76 -0.3L76.6 0L77.5 0L78 -0.3L78.6 -0.8M79.8 -5.7L82.1 0M84.4 -5.7L82.1 0"/>
</g>
<g transform="translate(432.40,398.50)">
<rect x="6.80" y="64.50" width="2.80" height="2.90" fill="#ff00ff"/>
<rect x="62.50" y="64.50" width="2.60" height="2.90" fill="#ff0a00"/>
<rect x="62.50" y="128.80" width="2.60" height="2.90" fill="#ff00ff"/>
<use href="#axes"/>
<path class="tx" transform="translate(17.16,163.95)" d="M1.2 -3.8L1.2 0M1.2 -2.7L2 -3.5L2.6 -3.8L3.5 -3.8L4 -3.5L4.3 -2.7L4.3 0M6.18 0.05Q7.68 0.00 8.48 1.20M9.78 -0.05L7.28 3.95M17.9 -3.8L17.9 0M17.9 -3L17.3 -3.5L16.8 -3.8L15.9 -3.8L15.3 -3.5L14.7 -3L14.4 -2.2L14.4 -1.6L14.7 -0.8L15.3 -0.3L15.9 0L16.8 0L17.3 -0.3L17.9 -0.8M20.5 -5.7L20.5 -1.1L20.8 -0.3L21.4 0L22 0M19.7 -3.8L21.7 -3.8M32.9 -4.3L32.9 -4.6L33.2 -5.1L33.5 -5.4L34.1 -5.7L35.3 -5.7L35.8 -5.4L36.1 -5.1L36.4 -4.6L36.4 -4.1L36.1 -3.5L35.5 -2.7L32.7 0L36.7 0M42.5 -5.7L39.6 0M38.4 -5.7L42.5 -5.7M44.8 -0.5L44.5 -0.3L44.8 0L45.1 -0.3L44.8 -0.5M47.7 -5.7L50.9 -5.7L49.1 -3.5L50 -3.5L50.6 -3.2L50.9 -3L51.2 -2.2L51.2 -1.6L50.9 -0.8L50.3 -0.3L49.4 0L48.6 0L47.7 -0.3L47.4 -0.5L47.1 -1.1M54.3 -5.7L53.5 -5.4L53.2 -4.9L53.2 -4.3L53.5 -3.8L54 -3.5L55.2 -3.2L56.1 -3L56.6 -2.4L56.9 -1.9L56.9 -1.1L56.6 -0.5L56.4 -0.3L55.5 0L54.3 0L53.5 -0.3L53.2 -0.5L52.9 -1.1L52.9 -1.9L53.2 -2.4L53.8 -3L54.6 -3.2L55.8 -3.5L56.4 -3.8L56.6 -4.3L56.6 -4.9L56.4 -5.4L55.5 -5.7L54.3 -5.7M61.6 -5.7L58.7 -1.9L63 -1.9M61.6 -5.7L61.6 0M73.4 -4.3L73.1 -4.9L72.5 -5.4L72 -5.7L70.8 -5.7L70.2 -5.4L69.6 -4.9L69.4 -4.3L69.1 -3.5L69.1 -2.2L69.4 -1.4L69.6 -0.8L70.2 -0.3L70.8 0L72 0L72.5 -0.3L73.1 -0.8L73.4 -1.4L73.4 -2.2M72 -2.2L73.4 -2.2M75.1 -2.2L78.6 -2.2L78.6 -2.7L78.3 -3.2L78 -3.5L77.5 -3.8L76.6 -3.8L76 -3.5L75.4 -3L75.1 -2.2L75.1 -1.6L75.4 -0.8L76 -0.3L76.6 0L77.5 0L78 -0.3L78.6 -0.8M79.8 -5.7L82.1 0M84.4 -5.7L82.1 0"/>
<path class="tx" transform="translate(-42.6,113.14) rotate(-90)" d="M1.2 -3.8L1.2 0M1.2 -2.7L2 -3.5L2.6 -3.8L3.5 -3.8L4 -3.5L4.3 -2.7L4.3 0M6.18 0.05Q7.68 0.00 8.48 1.20M9.78 -0.05L7.28 3.95M17.9 -3.8L17.9 0M17.9 -3L17.3 -3.5L16.8 -3.8L15.9 -3.8L15.3 -3.5L14.7 -3L14.4 -2.2L14.4 -1.6L14.7 -0.8L15.3 -0.3L15.9 0L16.8 0L17.3 -0.3L17.9 -0.8M20.5 -5.7L20.5 -1.1L20.8 -0.3L21.4 0L22 0M19.7 -3.8L21.7 -3.8M33.2 -5.7L36.4 -5.7L34.7 -3.5L35.5 -3.5L36.1 -3.2L36.4 -3L36.7 -2.2L36.7 -1.6L36.4 -0.8L35.8 -0.3L35 0L34.1 0L33.2 -0.3L32.9 -0.5L32.7 -1.1M42.2 -4.9L41.9 -5.4L41 -5.7L40.5 -5.7L39.6 -5.4L39 -4.6L38.7 -3.2L38.7 -1.9L39 -0.8L39.6 -0.3L40.5 0L40.7 0L41.6 -0.3L42.2 -0.8L42.5 -1.6L42.5 -1.9L42.2 -2.7L41.6 -3.2L40.7 -3.5L40.5 -3.5L39.6 -3.2L39 -2.7L38.7 -1.9M44.8 -0.5L44.5 -0.3L44.8 0L45.1 -0.3L44.8 -0.5M50.6 -5.7L47.7 -5.7L47.4 -3.2L47.7 -3.5L48.6 -3.8L49.4 -3.8L50.3 -3.5L50.9 -3L51.2 -2.2L51.2 -1.6L50.9 -0.8L50.3 -0.3L49.4 0L48.6 0L47.7 -0.3L47.4 -0.5L47.1 -1.1M53.8 -4.6L54.3 -4.9L55.2 -5.7L55.2 0M62.7 -5.7L59.8 0M58.7 -5.7L62.7 -5.7M73.4 -4.3L73.1 -4.9L72.5 -5.4L72 -5.7L70.8 -5.7L70.2 -5.4L69.6 -4.9L69.4 -4.3L69.1 -3.5L69.1 -2.2L69.4 -1.4L69.6 -0.8L70.2 -0.3L70.8 0L72 0L72.5 -0.3L73.1 -0.8L73.4 -1.4L73.4 -2.2M72 -2.2L73.4 -2.2M75.1 -2.2L78.6 -2.2L78.6 -2.7L78.3 -3.2L78 -3.5L77.5 -3.8L76.6 -3.8L76 -3.5L75.4 -3L75.1 -2.2L75.1 -1.6L75.4 -0.8L76 -0.3L76.6 0L77.5 0L78 -0.3L78.6 -0.8M79.8 -5.7L82.1 0M84.4 -5.7L82.1 0"/>
</g>
<g transform="translate(623.60,398.50)">
<rect x="6.80" y="64.50" width="2.80" height="2.90" fill="#ff00ff"/>
<rect x="62.50" y="64.50" width="2.60" height="2.90" fill="#ff7800"/>
<rect x="62.50" y="128.80" width="2.60" height="2.90" fill="#ff00ff"/>
<use href="#axes"/>
<path class="tx" transform="translate(17.16,163.95)" d="M1.2 -3.8L1.2 0M1.2 -2.7L2 -3.5L2.6 -3.8L3.5 -3.8L4 -3.5L4.3 -2.7L4.3 0M6.18 0.05Q7.68 0.00 8.48 1.20M9.78 -0.05L7.28 3.95M17.9 -3.8L17.9 0M17.9 -3L17.3 -3.5L16.8 -3.8L15.9 -3.8L15.3 -3.5L14.7 -3L14.4 -2.2L14.4 -1.6L14.7 -0.8L15.3 -0.3L15.9 0L16.8 0L17.3 -0.3L17.9 -0.8M20.5 -5.7L20.5 -1.1L20.8 -0.3L21.4 0L22 0M19.7 -3.8L21.7 -3.8M33.2 -5.7L36.4 -5.7L34.7 -3.5L35.5 -3.5L36.1 -3.2L36.4 -3L36.7 -2.2L36.7 -1.6L36.4 -0.8L35.8 -0.3L35 0L34.1 0L33.2 -0.3L32.9 -0.5L32.7 -1.1M42.2 -4.9L41.9 -5.4L41 -5.7L40.5 -5.7L39.6 -5.4L39 -4.6L38.7 -3.2L38.7 -1.9L39 -0.8L39.6 -0.3L40.5 0L40.7 0L41.6 -0.3L42.2 -0.8L42.5 -1.6L42.5 -1.9L42.2 -2.7L41.6 -3.2L40.7 -3.5L40.5 -3.5L39.6 -3.2L39 -2.7L38.7 -1.9M44.8 -0.5L44.5 -0.3L44.8 0L45.1 -0.3L44.8 -0.5M50.6 -5.7L47.7 -5.7L47.4 -3.2L47.7 -3.5L48.6 -3.8L49.4 -3.8L50.3 -3.5L50.9 -3L51.2 -2.2L51.2 -1.6L50.9 -0.8L50.3 -0.3L49.4 0L48.6 0L47.7 -0.3L47.4 -0.5L47.1 -1.1M53.8 -4.6L54.3 -4.9L55.2 -5.7L55.2 0M62.7 -5.7L59.8 0M58.7 -5.7L62.7 -5.7M73.4 -4.3L73.1 -4.9L72.5 -5.4L72 -5.7L70.8 -5.7L70.2 -5.4L69.6 -4.9L69.4 -4.3L69.1 -3.5L69.1 -2.2L69.4 -1.4L69.6 -0.8L70.2 -0.3L70.8 0L72 0L72.5 -0.3L73.1 -0.8L73.4 -1.4L73.4 -2.2M72 -2.2L73.4 -2.2M75.1 -2.2L78.6 -2.2L78.6 -2.7L78.3 -3.2L78 -3.5L77.5 -3.8L76.6 -3.8L76 -3.5L75.4 -3L75.1 -2.2L75.1 -1.6L75.4 -0.8L76 -0.3L76.6 0L77.5 0L78 -0.3L78.6 -0.8M79.8 -5.7L82.1 0M84.4 -5.7L82.1 0"/>
<path class="tx" transform="translate(-42.6,113.14) rotate(-90)" d="M1.2 -3.8L1.2 0M1.2 -2.7L2 -3.5L2.6 -3.8L3.5 -3.8L4 -3.5L4.3 -2.7L4.3 0M6.18 0.05Q7.68 0.00 8.48 1.20M9.78 -0.05L7.28 3.95M17.9 -3.8L17.9 0M17.9 -3L17.3 -3.5L16.8 -3.8L15.9 -3.8L15.3 -3.5L14.7 -3L14.4 -2.2L14.4 -1.6L14.7 -0.8L15.3 -0.3L15.9 0L16.8 0L17.3 -0.3L17.9 -0.8M20.5 -5.7L20.5 -1.1L20.8 -0.3L21.4 0L22 0M19.7 -3.8L21.7 -3.8M35.5 -5.7L32.7 -1.9L37 -1.9M35.5 -5.7L35.5 0M39.9 -5.7L39 -5.4L38.7 -4.9L38.7 -4.3L39 -3.8L39.6 -3.5L40.7 -3.2L41.6 -3L42.2 -2.4L42.5 -1.9L42.5 -1.1L42.2 -0.5L41.9 -0.3L41 0L39.9 0L39 -0.3L38.7 -0.5L38.4 -1.1L38.4 -1.9L38.7 -2.4L39.3 -3L40.2 -3.2L41.3 -3.5L41.9 -3.8L42.2 -4.3L42.2 -4.9L41.9 -5.4L41 -5.7L39.9 -5.7M44.8 -0.5L44.5 -0.3L44.8 0L45.1 -0.3L44.8 -0.5M50.9 -4.9L50.6 -5.4L49.7 -5.7L49.1 -5.7L48.3 -5.4L47.7 -4.6L47.4 -3.2L47.4 -1.9L47.7 -0.8L48.3 -0.3L49.1 0L49.4 0L50.3 -0.3L50.9 -0.8L51.2 -1.6L51.2 -1.9L50.9 -2.7L50.3 -3.2L49.4 -3.5L49.1 -3.5L48.3 -3.2L47.7 -2.7L47.4 -1.9M56.6 -3.8L56.4 -3L55.8 -2.4L54.9 -2.2L54.6 -2.2L53.8 -2.4L53.2 -3L52.9 -3.8L52.9 -4.1L53.2 -4.9L53.8 -5.4L54.6 -5.7L54.9 -5.7L55.8 -5.4L56.4 -4.9L56.6 -3.8L56.6 -2.4L56.4 -1.1L55.8 -0.3L54.9 0L54.3 0L53.5 -0.3L53.2 -0.8M62.7 -5.7L59.8 0M58.7 -5.7L62.7 -5.7M73.4 -4.3L73.1 -4.9L72.5 -5.4L72 -5.7L70.8 -5.7L70.2 -5.4L69.6 -4.9L69.4 -4.3L69.1 -3.5L69.1 -2.2L69.4 -1.4L69.6 -0.8L70.2 -0.3L70.8 0L72 0L72.5 -0.3L73.1 -0.8L73.4 -1.4L73.4 -2.2M72 -2.2L73.4 -2.2M75.1 -2.2L78.6 -2.2L78.6 -2.7L78.3 -3.2L78 -3.5L77.5 -3.8L76.6 -3.8L76 -3.5L75.4 -3L75.1 -2.2L75.1 -1.6L75.4 -0.8L76 -0.3L76.6 0L77.5 0L78 -0.3L78.6 -0.8M79.8 -5.7L82.1 0M84.4 -5.7L82.1 0"/>
</g>
<g transform="translate(49.20,590.30)">
<rect x="6.80" y="64.50" width="2.80" height="2.90" fill="#ff1400"/>
<rect x="62.50" y="64.50" width="2.60" height="2.90" fill="#ffd200"/>
<rect x="62.50" y="128.80" width="2.60" height="2.90" fill="#ff00ff"/>
<use href="#axes"/>
<path class="tx" transform="translate(17.16,163.95)" d="M1.2 -3.8L1.2 0M1.2 -2.7L2 -3.5L2.6 -3.8L3.5 -3.8L4 -3.5L4.3 -2.7L4.3 0M6.18 0.05Q7.68 0.00 8.48 1.20M9.78 -0.05L7.28 3.95M17.9 -3.8L17.9 0M17.9 -3L17.3 -3.5L16.8 -3.8L15.9 -3.8L15.3 -3.5L14.7 -3L14.4 -2.2L14.4 -1.6L14.7 -0.8L15.3 -0.3L15.9 0L16.8 0L17.3 -0.3L17.9 -0.8M20.5 -5.7L20.5 -1.1L20.8 -0.3L21.4 0L22 0M19.7 -3.8L21.7 -3.8M35.5 -5.7L32.7 -1.9L37 -1.9M35.5 -5.7L35.5 0M39.9 -5.7L39 -5.4L38.7 -4.9L38.7 -4.3L39 -3.8L39.6 -3.5L40.7 -3.2L41.6 -3L42.2 -2.4L42.5 -1.9L42.5 -1.1L42.2 -0.5L41.9 -0.3L41 0L39.9 0L39 -0.3L38.7 -0.5L38.4 -1.1L38.4 -1.9L38.7 -2.4L39.3 -3L40.2 -3.2L41.3 -3.5L41.9 -3.8L42.2 -4.3L42.2 -4.9L41.9 -5.4L41 -5.7L39.9 -5.7M44.8 -0.5L44.5 -0.3L44.8 0L45.1 -0.3L44.8 -0.5M50.9 -4.9L50.6 -5.4L49.7 -5.7L49.1 -5.7L48.3 -5.4L47.7 -4.6L47.4 -3.2L47.4 -1.9L47.7 -0.8L48.3 -0.3L49.1 0L49.4 0L50.3 -0.3L50.9 -0.8L51.2 -1.6L51.2 -1.9L50.9 -2.7L50.3 -3.2L49.4 -3.5L49.1 -3.5L48.3 -3.2L47.7 -2.7L47.4 -1.9M56.6 -3.8L56.4 -3L55.8 -2.4L54.9 -2.2L54.6 -2.2L53.8 -2.4L53.2 -3L52.9 -3.8L52.9 -4.1L53.2 -4.9L53.8 -5.4L54.6 -5.7L54.9 -5.7L55.8 -5.4L56.4 -4.9L56.6 -3.8L56.6 -2.4L56.4 -1.1L55.8 -0.3L54.9 0L54.3 0L53.5 -0.3L53.2 -0.8M62.7 -5.7L59.8 0M58.7 -5.7L62.7 -5.7M73.4 -4.3L73.1 -4.9L72.5 -5.4L72 -5.7L70.8 -5.7L70.2 -5.4L69.6 -4.9L69.4 -4.3L69.1 -3.5L69.1 -2.2L69.4 -1.4L69.6 -0.8L70.2 -0.3L70.8 0L72 0L72.5 -0.3L73.1 -0.8L73.4 -1.4L73.4 -2.2M72 -2.2L73.4 -2.2M75.1 -2.2L78.6 -2.2L78.6 -2.7L78.3 -3.2L78 -3.5L77.5 -3.8L76.6 -3.8L76 -3.5L75.4 -3L75.1 -2.2L75.1 -1.6L75.4 -0.8L76 -0.3L76.6 0L77.5 0L78 -0.3L78.6 -0.8M79.8 -5.7L82.1 0M84.4 -5.7L82.1 0"/>
<path class="tx" transform="translate(-42.6,113.14) rotate(-90)" d="M1.2 -3.8L1.2 0M1.2 -2.7L2 -3.5L2.6 -3.8L3.5 -3.8L4 -3.5L4.3 -2.7L4.3 0M6.18 0.05Q7.68 0.00 8.48 1.20M9.78 -0.05L7.28 3.95M17.9 -3.8L17.9 0M17.9 -3L17.3 -3.5L16.8 -3.8L15.9 -3.8L15.3 -3.5L14.7 -3L14.4 -2.2L14.4 -1.6L14.7 -0.8L15.3 -0.3L15.9 0L16.8 0L17.3 -0.3L17.9 -0.8M20.5 -5.7L20.5 -1.1L20.8 -0.3L21.4 0L22 0M19.7 -3.8L21.7 -3.8M36.4 -4.9L36.1 -5.4L35.3 -5.7L34.7 -5.7L33.8 -5.4L33.2 -4.6L32.9 -3.2L32.9 -1.9L33.2 -0.8L33.8 -0.3L34.7 0L35 0L35.8 -0.3L36.4 -0.8L36.7 -1.6L36.7 -1.9L36.4 -2.7L35.8 -3.2L35 -3.5L34.7 -3.5L33.8 -3.2L33.2 -2.7L32.9 -1.9M41.3 -5.7L38.4 -1.9L42.8 -1.9M41.3 -5.7L41.3 0M44.8 -0.5L44.5 -0.3L44.8 0L45.1 -0.3L44.8 -0.5M50.9 -3.8L50.6 -3L50 -2.4L49.1 -2.2L48.8 -2.2L48 -2.4L47.4 -3L47.1 -3.8L47.1 -4.1L47.4 -4.9L48 -5.4L48.8 -5.7L49.1 -5.7L50 -5.4L50.6 -4.9L50.9 -3.8L50.9 -2.4L50.6 -1.1L50 -0.3L49.1 0L48.6 0L47.7 -0.3L47.4 -0.8M53.5 -5.7L56.6 -5.7L54.9 -3.5L55.8 -3.5L56.4 -3.2L56.6 -3L56.9 -2.2L56.9 -1.6L56.6 -0.8L56.1 -0.3L55.2 0L54.3 0L53.5 -0.3L53.2 -0.5L52.9 -1.1M60.1 -5.7L59.2 -5.4L59 -4.9L59 -4.3L59.2 -3.8L59.8 -3.5L61 -3.2L61.8 -3L62.4 -2.4L62.7 -1.9L62.7 -1.1L62.4 -0.5L62.1 -0.3L61.3 0L60.1 0L59.2 -0.3L59 -0.5L58.7 -1.1L58.7 -1.9L59 -2.4L59.5 -3L60.4 -3.2L61.6 -3.5L62.1 -3.8L62.4 -4.3L62.4 -4.9L62.1 -5.4L61.3 -5.7L60.1 -5.7M73.4 -4.3L73.1 -4.9L72.5 -5.4L72 -5.7L70.8 -5.7L70.2 -5.4L69.6 -4.9L69.4 -4.3L69.1 -3.5L69.1 -2.2L69.4 -1.4L69.6 -0.8L70.2 -0.3L70.8 0L72 0L72.5 -0.3L73.1 -0.8L73.4 -1.4L73.4 -2.2M72 -2.2L73.4 -2.2M75.1 -2.2L78.6 -2.2L78.6 -2.7L78.3 -3.2L78 -3.5L77.5 -3.8L76.6 -3.8L76 -3.5L75.4 -3L75.1 -2.2L75.1 -1.6L75.4 -0.8L76 -0.3L76.6 0L77.5 0L78 -0.3L78.6 -0.8M79.8 -5.7L82.1 0M84.4 -5.7L82.1 0"/>
</g>
<g transform="translate(240.70,590.30)">
<rect x="6.80" y="64.50" width="2.80" height="2.90" fill="#ff0a00"/>
<rect x="62.50" y="64.50" width="2.60" height="2.90" fill="#beff00"/>
<rect x="62.50" y="128.80" width="2.60" height="2.90" fill="#ff0000"/>
<use href="#axes"/>
<path class="tx" transform="translate(17.16,163.95)" d="M1.2 -3.8L1.2 0M1.2 -2.7L2 -3.5L2.6 -3.8L3.5 -3.8L4 -3.5L4.3 -2.7L4.3 0M6.18 0.05Q7.68 0.00 8.48 1.20M9.78 -0.05L7.28 3.95M17.9 -3.8L17.9 0M17.9 -3L17.3 -3.5L16.8 -3.8L15.9 -3.8L15.3 -3.5L14.7 -3L14.4 -2.2L14.4 -1.6L14.7 -0.8L15.3 -0.3L15.9 0L16.8 0L17.3 -0.3L17.9 -0.8M20.5 -5.7L20.5 -1.1L20.8 -0.3L21.4 0L22 0M19.7 -3.8L21.7 -3.8M36.4 -4.9L36.1 -5.4L35.3 -5.7L34.7 -5.7L33.8 -5.4L33.2 -4.6L32.9 -3.2L32.9 -1.9L33.2 -0.8L33.8 -0.3L34.7 0L35 0L35.8 -0.3L36.4 -0.8L36.7 -1.6L36.7 -1.9L36.4 -2.7L35.8 -3.2L35 -3.5L34.7 -3.5L33.8 -3.2L33.2 -2.7L32.9 -1.9M41.3 -5.7L38.4 -1.9L42.8 -1.9M41.3 -5.7L41.3 0M44.8 -0.5L44.5 -0.3L44.8 0L45.1 -0.3L44.8 -0.5M50.9 -3.8L50.6 -3L50 -2.4L49.1 -2.2L48.8 -2.2L48 -2.4L47.4 -3L47.1 -3.8L47.1 -4.1L47.4 -4.9L48 -5.4L48.8 -5.7L49.1 -5.7L50 -5.4L50.6 -4.9L50.9 -3.8L50.9 -2.4L50.6 -1.1L50 -0.3L49.1 0L48.6 0L47.7 -0.3L47.4 -0.8M53.5 -5.7L56.6 -5.7L54.9 -3.5L55.8 -3.5L56.4 -3.2L56.6 -3L56.9 -2.2L56.9 -1.6L56.6 -0.8L56.1 -0.3L55.2 0L54.3 0L53.5 -0.3L53.2 -0.5L52.9 -1.1M60.1 -5.7L59.2 -5.4L59 -4.9L59 -4.3L59.2 -3.8L59.8 -3.5L61 -3.2L61.8 -3L62.4 -2.4L62.7 -1.9L62.7 -1.1L62.4 -0.5L62.1 -0.3L61.3 0L60.1 0L59.2 -0.3L59 -0.5L58.7 -1.1L58.7 -1.9L59 -2.4L59.5 -3L60.4 -3.2L61.6 -3.5L62.1 -3.8L62.4 -4.3L62.4 -4.9L62.1 -5.4L61.3 -5.7L60.1 -5.7M73.4 -4.3L73.1 -4.9L72.5 -5.4L72 -5.7L70.8 -5.7L70.2 -5.4L69.6 -4.9L69.4 -4.3L69.1 -3.5L69.1 -2.2L69.4 -1.4L69.6 -0.8L70.2 -0.3L70.8 0L72 0L72.5 -0.3L73.1 -0.8L73.4 -1.4L73.4 -2.2M72 -2.2L73.4 -2.2M75.1 -2.2L78.6 -2.2L78.6 -2.7L78.3 -3.2L78 -3.5L77.5 -3.8L76.6 -3.8L76 -3.5L75.4 -3L75.1 -2.2L75.1 -1.6L75.4 -0.8L76 -0.3L76.6 0L77.5 0L78 -0.3L78.6 -0.8M79.8 -5.7L82.1 0M84.4 -5.7L82.1 0"/>
<path class="tx" transform="translate(-42.6,113.14) rotate(-90)" d="M1.2 -3.8L1.2 0M1.2 -2.7L2 -3.5L2.6 -3.8L3.5 -3.8L4 -3.5L4.3 -2.7L4.3 0M6.18 0.05Q7.68 0.00 8.48 1.20M9.78 -0.05L7.28 3.95M17.9 -3.8L17.9 0M17.9 -3L17.3 -3.5L16.8 -3.8L15.9 -3.8L15.3 -3.5L14.7 -3L14.4 -2.2L14.4 -1.6L14.7 -0.8L15.3 -0.3L15.9 0L16.8 0L17.3 -0.3L17.9 -0.8M20.5 -5.7L20.5 -1.1L20.8 -0.3L21.4 0L22 0M19.7 -3.8L21.7 -3.8M34.1 -5.7L33.2 -5.4L32.9 -4.9L32.9 -4.3L33.2 -3.8L33.8 -3.5L35 -3.2L35.8 -3L36.4 -2.4L36.7 -1.9L36.7 -1.1L36.4 -0.5L36.1 -0.3L35.3 0L34.1 0L33.2 -0.3L32.9 -0.5L32.7 -1.1L32.7 -1.9L32.9 -2.4L33.5 -3L34.4 -3.2L35.5 -3.5L36.1 -3.8L36.4 -4.3L36.4 -4.9L36.1 -5.4L35.3 -5.7L34.1 -5.7M42.2 -4.9L41.9 -5.4L41 -5.7L40.5 -5.7L39.6 -5.4L39 -4.6L38.7 -3.2L38.7 -1.9L39 -0.8L39.6 -0.3L40.5 0L40.7 0L41.6 -0.3L42.2 -0.8L42.5 -1.6L42.5 -1.9L42.2 -2.7L41.6 -3.2L40.7 -3.5L40.5 -3.5L39.6 -3.2L39 -2.7L38.7 -1.9M44.8 -0.5L44.5 -0.3L44.8 0L45.1 -0.3L44.8 -0.5M50.6 -5.7L47.7 -5.7L47.4 -3.2L47.7 -3.5L48.6 -3.8L49.4 -3.8L50.3 -3.5L50.9 -3L51.2 -2.2L51.2 -1.6L50.9 -0.8L50.3 -0.3L49.4 0L48.6 0L47.7 -0.3L47.4 -0.5L47.1 -1.1M56.6 -3.8L56.4 -3L55.8 -2.4L54.9 -2.2L54.6 -2.2L53.8 -2.4L53.2 -3L52.9 -3.8L52.9 -4.1L53.2 -4.9L53.8 -5.4L54.6 -5.7L54.9 -5.7L55.8 -5.4L56.4 -4.9L56.6 -3.8L56.6 -2.4L56.4 -1.1L55.8 -0.3L54.9 0L54.3 0L53.5 -0.3L53.2 -0.8M62.4 -4.9L62.1 -5.4L61.3 -5.7L60.7 -5.7L59.8 -5.4L59.2 -4.6L59 -3.2L59 -1.9L59.2 -0.8L59.8 -0.3L60.7 0L61 0L61.8 -0.3L62.4 -0.8L62.7 -1.6L62.7 -1.9L62.4 -2.7L61.8 -3.2L61 -3.5L60.7 -3.5L59.8 -3.2L59.2 -2.7L59 -1.9M73.4 -4.3L73.1 -4.9L72.5 -5.4L72 -5.7L70.8 -5.7L70.2 -5.4L69.6 -4.9L69.4 -4.3L69.1 -3.5L69.1 -2.2L69.4 -1.4L69.6 -0.8L70.2 -0.3L70.8 0L72 0L72.5 -0.3L73.1 -0.8L73.4 -1.4L73.4 -2.2M72 -2.2L73.4 -2.2M75.1 -2.2L78.6 -2.2L78.6 -2.7L78.3 -3.2L78 -3.5L77.5 -3.8L76.6 -3.8L76 -3.5L75.4 -3L75.1 -2.2L75.1 -1.6L75.4 -0.8L76 -0.3L76.6 0L77.5 0L78 -0.3L78.6 -0.8M79.8 -5.7L82.1 0M84.4 -5.7L82.1 0"/>
</g>
<g transform="translate(432.40,590.30)">
<rect x="6.80" y="64.50" width="2.80" height="2.90" fill="#ff1400"/>
<rect x="62.50" y="64.50" width="2.60" height="2.90" fill="#00e600"/>
<rect x="62.50" y="128.80" width="2.60" height="2.90" fill="#ff0000"/>
<use href="#axes"/>
<path class="tx" transform="translate(17.16,163.95)" d="M1.2 -3.8L1.2 0M1.2 -2.7L2 -3.5L2.6 -3.8L3.5 -3.8L4 -3.5L4.3 -2.7L4.3 0M6.18 0.05Q7.68 0.00 8.48 1.20M9.78 -0.05L7.28 3.95M17.9 -3.8L17.9 0M17.9 -3L17.3 -3.5L16.8 -3.8L15.9 -3.8L15.3 -3.5L14.7 -3L14.4 -2.2L14.4 -1.6L14.7 -0.8L15.3 -0.3L15.9 0L16.8 0L17.3 -0.3L17.9 -0.8M20.5 -5.7L20.5 -1.1L20.8 -0.3L21.4 0L22 0M19.7 -3.8L21.7 -3.8M34.1 -5.7L33.2 -5.4L32.9 -4.9L32.9 -4.3L33.2 -3.8L33.8 -3.5L35 -3.2L35.8 -3L36.4 -2.4L36.7 -1.9L36.7 -1.1L36.4 -0.5L36.1 -0.3L35.3 0L34.1 0L33.2 -0.3L32.9 -0.5L32.7 -1.1L32.7 -1.9L32.9 -2.4L33.5 -3L34.4 -3.2L35.5 -3.5L36.1 -3.8L36.4 -4.3L36.4 -4.9L36.1 -5.4L35.3 -5.7L34.1 -5.7M42.2 -4.9L41.9 -5.4L41 -5.7L40.5 -5.7L39.6 -5.4L39 -4.6L38.7 -3.2L38.7 -1.9L39 -0.8L39.6 -0.3L40.5 0L40.7 0L41.6 -0.3L42.2 -0.8L42.5 -1.6L42.5 -1.9L42.2 -2.7L41.6 -3.2L40.7 -3.5L40.5 -3.5L39.6 -3.2L39 -2.7L38.7 -1.9M44.8 -0.5L44.5 -0.3L44.8 0L45.1 -0.3L44.8 -0.5M50.6 -5.7L47.7 -5.7L47.4 -3.2L47.7 -3.5L48.6 -3.8L49.4 -3.8L50.3 -3.5L50.9 -3L51.2 -2.2L51.2 -1.6L50.9 -0.8L50.3 -0.3L49.4 0L48.6 0L47.7 -0.3L47.4 -0.5L47.1 -1.1M56.6 -3.8L56.4 -3L55.8 -2.4L54.9 -2.2L54.6 -2.2L53.8 -2.4L53.2 -3L52.9 -3.8L52.9 -4.1L53.2 -4.9L53.8 -5.4L54.6 -5.7L54.9 -5.7L55.8 -5.4L56.4 -4.9L56.6 -3.8L56.6 -2.4L56.4 -1.1L55.8 -0.3L54.9 0L54.3 0L53.5 -0.3L53.2 -0.8M62.4 -4.9L62.1 -5.4L61.3 -5.7L60.7 -5.7L59.8 -5.4L59.2 -4.6L59 -3.2L59 -1.9L59.2 -0.8L59.8 -0.3L60.7 0L61 0L61.8 -0.3L62.4 -0.8L62.7 -1.6L62.7 -1.9L62.4 -2.7L61.8 -3.2L61 -3.5L60.7 -3.5L59.8 -3.2L59.2 -2.7L59 -1.9M73.4 -4.3L73.1 -4.9L72.5 -5.4L72 -5.7L70.8 -5.7L70.2 -5.4L69.6 -4.9L69.4 -4.3L69.1 -3.5L69.1 -2.2L69.4 -1.4L69.6 -0.8L70.2 -0.3L70.8 0L72 0L72.5 -0.3L73.1 -0.8L73.4 -1.4L73.4 -2.2M72 -2.2L73.4 -2.2M75.1 -2.2L78.6 -2.2L78.6 -2.7L78.3 -3.2L78 -3.5L77.5 -3.8L76.6 -3.8L76 -3.5L75.4 -3L75.1 -2.2L75.1 -1.6L75.4 -0.8L76 -0.3L76.6 0L77.5 0L78 -0.3L78.6 -0.8M79.8 -5.7L82.1 0M84.4 -5.7L82.1 0"/>
<path class="tx" transform="translate(-42.6,113.72) rotate(-90)" d="M1.2 -3.8L1.2 0M1.2 -2.7L2 -3.5L2.6 -3.8L3.5 -3.8L4 -3.5L4.3 -2.7L4.3 0M6.18 0.05Q7.68 0.00 8.48 1.20M9.78 -0.05L7.28 3.95M17.9 -3.8L17.9 0M17.9 -3L17.3 -3.5L16.8 -3.8L15.9 -3.8L15.3 -3.5L14.7 -3L14.4 -2.2L14.4 -1.6L14.7 -0.8L15.3 -0.3L15.9 0L16.8 0L17.3 -0.3L17.9 -0.8M20.5 -5.7L20.5 -1.1L20.8 -0.3L21.4 0L22 0M19.7 -3.8L21.7 -3.8M28.9 -4.6L29.5 -4.9L30.3 -5.7L30.3 0M34.7 -4.6L35.3 -4.9L36.1 -5.7L36.1 0M43.1 -5.7L40.2 -5.7L39.9 -3.2L40.2 -3.5L41 -3.8L41.9 -3.8L42.8 -3.5L43.4 -3L43.6 -2.2L43.6 -1.6L43.4 -0.8L42.8 -0.3L41.9 0L41 0L40.2 -0.3L39.9 -0.5L39.6 -1.1M46 -0.5L45.7 -0.3L46 0L46.2 -0.3L46 -0.5M51.2 -5.7L48.3 -1.9L52.6 -1.9M51.2 -5.7L51.2 0M58.1 -5.7L55.2 0M54 -5.7L58.1 -5.7M61.3 -5.7L60.4 -5.4L60.1 -4.9L60.1 -4.3L60.4 -3.8L61 -3.5L62.1 -3.2L63 -3L63.6 -2.4L63.9 -1.9L63.9 -1.1L63.6 -0.5L63.3 -0.3L62.4 0L61.3 0L60.4 -0.3L60.1 -0.5L59.8 -1.1L59.8 -1.9L60.1 -2.4L60.7 -3L61.6 -3.2L62.7 -3.5L63.3 -3.8L63.6 -4.3L63.6 -4.9L63.3 -5.4L62.4 -5.7L61.3 -5.7M74.6 -4.3L74.3 -4.9L73.7 -5.4L73.1 -5.7L72 -5.7L71.4 -5.4L70.8 -4.9L70.5 -4.3L70.2 -3.5L70.2 -2.2L70.5 -1.4L70.8 -0.8L71.4 -0.3L72 0L73.1 0L73.7 -0.3L74.3 -0.8L74.6 -1.4L74.6 -2.2M73.1 -2.2L74.6 -2.2M76.3 -2.2L79.8 -2.2L79.8 -2.7L79.5 -3.2L79.2 -3.5L78.6 -3.8L77.7 -3.8L77.2 -3.5L76.6 -3L76.3 -2.2L76.3 -1.6L76.6 -0.8L77.2 -0.3L77.7 0L78.6 0L79.2 -0.3L79.8 -0.8M80.9 -5.7L83.2 0M85.5 -5.7L83.2 0"/>
</g>
<g transform="translate(623.60,590.30)">
<rect x="6.80" y="64.50" width="2.80" height="2.90" fill="#ff5a00"/>
<rect x="62.50" y="64.50" width="2.60" height="2.90" fill="#00e678"/>
<rect x="62.50" y="128.80" width="2.60" height="2.90" fill="#ff0000"/>
<use href="#axes"/>
<path class="tx" transform="translate(16.58,163.95)" d="M1.2 -3.8L1.2 0M1.2 -2.7L2 -3.5L2.6 -3.8L3.5 -3.8L4 -3.5L4.3 -2.7L4.3 0M6.18 0.05Q7.68 0.00 8.48 1.20M9.78 -0.05L7.28 3.95M17.9 -3.8L17.9 0M17.9 -3L17.3 -3.5L16.8 -3.8L15.9 -3.8L15.3 -3.5L14.7 -3L14.4 -2.2L14.4 -1.6L14.7 -0.8L15.3 -0.3L15.9 0L16.8 0L17.3 -0.3L17.9 -0.8M20.5 -5.7L20.5 -1.1L20.8 -0.3L21.4 0L22 0M19.7 -3.8L21.7 -3.8M28.9 -4.6L29.5 -4.9L30.3 -5.7L30.3 0M34.7 -4.6L35.3 -4.9L36.1 -5.7L36.1 0M43.1 -5.7L40.2 -5.7L39.9 -3.2L40.2 -3.5L41 -3.8L41.9 -3.8L42.8 -3.5L43.4 -3L43.6 -2.2L43.6 -1.6L43.4 -0.8L42.8 -0.3L41.9 0L41 0L40.2 -0.3L39.9 -0.5L39.6 -1.1M46 -0.5L45.7 -0.3L46 0L46.2 -0.3L46 -0.5M51.2 -5.7L48.3 -1.9L52.6 -1.9M51.2 -5.7L51.2 0M58.1 -5.7L55.2 0M54 -5.7L58.1 -5.7M61.3 -5.7L60.4 -5.4L60.1 -4.9L60.1 -4.3L60.4 -3.8L61 -3.5L62.1 -3.2L63 -3L63.6 -2.4L63.9 -1.9L63.9 -1.1L63.6 -0.5L63.3 -0.3L62.4 0L61.3 0L60.4 -0.3L60.1 -0.5L59.8 -1.1L59.8 -1.9L60.1 -2.4L60.7 -3L61.6 -3.2L62.7 -3.5L63.3 -3.8L63.6 -4.3L63.6 -4.9L63.3 -5.4L62.4 -5.7L61.3 -5.7M74.6 -4.3L74.3 -4.9L73.7 -5.4L73.1 -5.7L72 -5.7L71.4 -5.4L70.8 -4.9L70.5 -4.3L70.2 -3.5L70.2 -2.2L70.5 -1.4L70.8 -0.8L71.4 -0.3L72 0L73.1 0L73.7 -0.3L74.3 -0.8L74.6 -1.4L74.6 -2.2M73.1 -2.2L74.6 -2.2M76.3 -2.2L79.8 -2.2L79.8 -2.7L79.5 -3.2L79.2 -3.5L78.6 -3.8L77.7 -3.8L77.2 -3.5L76.6 -3L76.3 -2.2L76.3 -1.6L76.6 -0.8L77.2 -0.3L77.7 0L78.6 0L79.2 -0.3L79.8 -0.8M80.9 -5.7L83.2 0M85.5 -5.7L83.2 0"/>
<path class="tx" transform="translate(-42.6,113.72) rotate(-90)" d="M1.2 -3.8L1.2 0M1.2 -2.7L2 -3.5L2.6 -3.8L3.5 -3.8L4 -3.5L4.3 -2.7L4.3 0M6.18 0.05Q7.68 0.00 8.48 1.20M9.78 -0.05L7.28 3.95M17.9 -3.8L17.9 0M17.9 -3L17.3 -3.5L16.8 -3.8L15.9 -3.8L15.3 -3.5L14.7 -3L14.4 -2.2L14.4 -1.6L14.7 -0.8L15.3 -0.3L15.9 0L16.8 0L17.3 -0.3L17.9 -0.8M20.5 -5.7L20.5 -1.1L20.8 -0.3L21.4 0L22 0M19.7 -3.8L21.7 -3.8M28.9 -4.6L29.5 -4.9L30.3 -5.7L30.3 0M37.3 -5.7L34.4 -5.7L34.1 -3.2L34.4 -3.5L35.3 -3.8L36.1 -3.8L37 -3.5L37.6 -3L37.9 -2.2L37.9 -1.6L37.6 -0.8L37 -0.3L36.1 0L35.3 0L34.4 -0.3L34.1 -0.5L33.8 -1.1M40.2 -5.7L43.4 -5.7L41.6 -3.5L42.5 -3.5L43.1 -3.2L43.4 -3L43.6 -2.2L43.6 -1.6L43.4 -0.8L42.8 -0.3L41.9 0L41 0L40.2 -0.3L39.9 -0.5L39.6 -1.1M46 -0.5L45.7 -0.3L46 0L46.2 -0.3L46 -0.5M52 -3.8L51.7 -3L51.2 -2.4L50.3 -2.2L50 -2.2L49.1 -2.4L48.6 -3L48.3 -3.8L48.3 -4.1L48.6 -4.9L49.1 -5.4L50 -5.7L50.3 -5.7L51.2 -5.4L51.7 -4.9L52 -3.8L52 -2.4L51.7 -1.1L51.2 -0.3L50.3 0L49.7 0L48.8 -0.3L48.6 -0.8M57.8 -3.8L57.5 -3L56.9 -2.4L56.1 -2.2L55.8 -2.2L54.9 -2.4L54.3 -3L54 -3.8L54 -4.1L54.3 -4.9L54.9 -5.4L55.8 -5.7L56.1 -5.7L56.9 -5.4L57.5 -4.9L57.8 -3.8L57.8 -2.4L57.5 -1.1L56.9 -0.3L56.1 0L55.5 0L54.6 -0.3L54.3 -0.8M60.4 -5.7L63.6 -5.7L61.8 -3.5L62.7 -3.5L63.3 -3.2L63.6 -3L63.9 -2.2L63.9 -1.6L63.6 -0.8L63 -0.3L62.1 0L61.3 0L60.4 -0.3L60.1 -0.5L59.8 -1.1M74.6 -4.3L74.3 -4.9L73.7 -5.4L73.1 -5.7L72 -5.7L71.4 -5.4L70.8 -4.9L70.5 -4.3L70.2 -3.5L70.2 -2.2L70.5 -1.4L70.8 -0.8L71.4 -0.3L72 0L73.1 0L73.7 -0.3L74.3 -0.8L74.6 -1.4L74.6 -2.2M73.1 -2.2L74.6 -2.2M76.3 -2.2L79.8 -2.2L79.8 -2.7L79.5 -3.2L79.2 -3.5L78.6 -3.8L77.7 -3.8L77.2 -3.5L76.6 -3L76.3 -2.2L76.3 -1.6L76.6 -0.8L77.2 -0.3L77.7 0L78.6 0L79.2 -0.3L79.8 -0.8M80.9 -5.7L83.2 0M85.5 -5.7L83.2 0"/>
</g>
</svg></body></html>
